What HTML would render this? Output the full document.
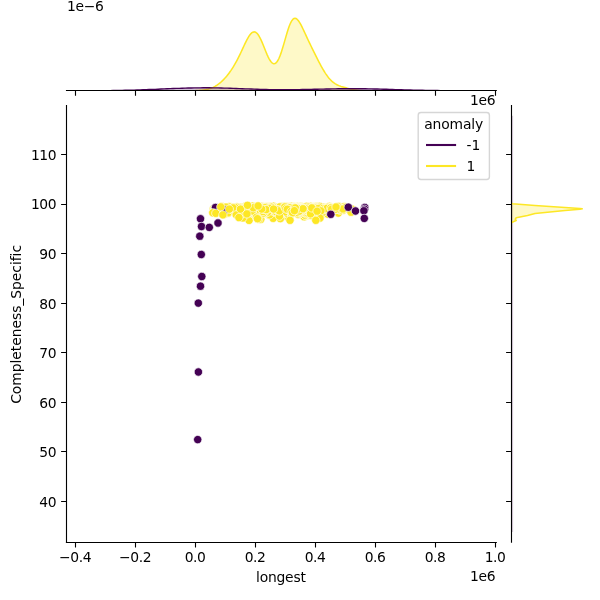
<!DOCTYPE html>
<html lang="en"><head><meta charset="utf-8"><title>jointplot</title>
<style>html,body{margin:0;padding:0;background:#fff}svg{display:block}</style></head>
<body>
<svg width="600" height="600" viewBox="0 0 600 600" font-family="'DejaVu Sans', 'Liberation Sans', sans-serif" font-size="13.89" fill="#000">
<rect width="600" height="600" fill="#fff"/>
<g stroke="#fff" stroke-width="0.67">
<circle cx="270.75" cy="209.07" r="4.17" fill="#fde725"/>
<circle cx="266.71" cy="207.48" r="4.17" fill="#fde725"/>
<circle cx="318.91" cy="208.54" r="4.17" fill="#fde725"/>
<circle cx="287.69" cy="209.38" r="4.17" fill="#fde725"/>
<circle cx="253" cy="212.68" r="4.17" fill="#fde725"/>
<circle cx="287.9" cy="211.49" r="4.17" fill="#fde725"/>
<circle cx="289.61" cy="208.94" r="4.17" fill="#fde725"/>
<circle cx="255.72" cy="209.16" r="4.17" fill="#fde725"/>
<circle cx="330.56" cy="209.17" r="4.17" fill="#fde725"/>
<circle cx="263.01" cy="209.47" r="4.17" fill="#fde725"/>
<circle cx="290.98" cy="208.43" r="4.17" fill="#fde725"/>
<circle cx="297.17" cy="209.69" r="4.17" fill="#fde725"/>
<circle cx="278.14" cy="209.58" r="4.17" fill="#fde725"/>
<circle cx="314.05" cy="206.56" r="4.17" fill="#fde725"/>
<circle cx="309.8" cy="208.11" r="4.17" fill="#fde725"/>
<circle cx="280.27" cy="212.27" r="4.17" fill="#fde725"/>
<circle cx="236.83" cy="211.51" r="4.17" fill="#fde725"/>
<circle cx="303.72" cy="210.51" r="4.17" fill="#fde725"/>
<circle cx="307.27" cy="215.54" r="4.17" fill="#fde725"/>
<circle cx="250.17" cy="208.12" r="4.17" fill="#fde725"/>
<circle cx="266.8" cy="210.22" r="4.17" fill="#fde725"/>
<circle cx="247.05" cy="210.61" r="4.17" fill="#fde725"/>
<circle cx="243.22" cy="208.64" r="4.17" fill="#fde725"/>
<circle cx="257.88" cy="209.26" r="4.17" fill="#fde725"/>
<circle cx="330.06" cy="208.38" r="4.17" fill="#fde725"/>
<circle cx="297.65" cy="210.73" r="4.17" fill="#fde725"/>
<circle cx="297.89" cy="210.84" r="4.17" fill="#fde725"/>
<circle cx="309.98" cy="207.63" r="4.17" fill="#fde725"/>
<circle cx="252.14" cy="206.92" r="4.17" fill="#fde725"/>
<circle cx="320.95" cy="210.8" r="4.17" fill="#fde725"/>
<circle cx="293.96" cy="210.04" r="4.17" fill="#fde725"/>
<circle cx="264.18" cy="209.58" r="4.17" fill="#fde725"/>
<circle cx="307.17" cy="206.99" r="4.17" fill="#fde725"/>
<circle cx="311.43" cy="211.52" r="4.17" fill="#fde725"/>
<circle cx="259.72" cy="209.7" r="4.17" fill="#fde725"/>
<circle cx="287.06" cy="210.1" r="4.17" fill="#fde725"/>
<circle cx="242.24" cy="208.99" r="4.17" fill="#fde725"/>
<circle cx="330.1" cy="211.06" r="4.17" fill="#fde725"/>
<circle cx="295.56" cy="210.12" r="4.17" fill="#fde725"/>
<circle cx="241" cy="209.2" r="4.17" fill="#fde725"/>
<circle cx="337.12" cy="209.65" r="4.17" fill="#fde725"/>
<circle cx="283.25" cy="213.62" r="4.17" fill="#fde725"/>
<circle cx="302.09" cy="209.49" r="4.17" fill="#fde725"/>
<circle cx="316.25" cy="209.56" r="4.17" fill="#fde725"/>
<circle cx="284.5" cy="210.17" r="4.17" fill="#fde725"/>
<circle cx="306.81" cy="211.59" r="4.17" fill="#fde725"/>
<circle cx="294.36" cy="209.22" r="4.17" fill="#fde725"/>
<circle cx="244.5" cy="209.2" r="4.17" fill="#fde725"/>
<circle cx="312.27" cy="209.03" r="4.17" fill="#fde725"/>
<circle cx="311.46" cy="210.49" r="4.17" fill="#fde725"/>
<circle cx="283.53" cy="206.37" r="4.17" fill="#fde725"/>
<circle cx="258.52" cy="209.26" r="4.17" fill="#fde725"/>
<circle cx="306.07" cy="208.1" r="4.17" fill="#fde725"/>
<circle cx="253.5" cy="209.9" r="4.17" fill="#fde725"/>
<circle cx="243.47" cy="208.95" r="4.17" fill="#fde725"/>
<circle cx="241.87" cy="214.56" r="4.17" fill="#fde725"/>
<circle cx="292.83" cy="209.69" r="4.17" fill="#fde725"/>
<circle cx="292.03" cy="207.39" r="4.17" fill="#fde725"/>
<circle cx="301.01" cy="210.17" r="4.17" fill="#fde725"/>
<circle cx="239.67" cy="212.18" r="4.17" fill="#fde725"/>
<circle cx="242.73" cy="208.61" r="4.17" fill="#fde725"/>
<circle cx="307.94" cy="210.78" r="4.17" fill="#fde725"/>
<circle cx="303.77" cy="207.74" r="4.17" fill="#fde725"/>
<circle cx="307.85" cy="208.99" r="4.17" fill="#fde725"/>
<circle cx="242.74" cy="211.06" r="4.17" fill="#fde725"/>
<circle cx="248" cy="209.22" r="4.17" fill="#fde725"/>
<circle cx="329.34" cy="206.46" r="4.17" fill="#fde725"/>
<circle cx="260.07" cy="210.53" r="4.17" fill="#fde725"/>
<circle cx="265.19" cy="208.73" r="4.17" fill="#fde725"/>
<circle cx="289.23" cy="208.66" r="4.17" fill="#fde725"/>
<circle cx="281.33" cy="207.38" r="4.17" fill="#fde725"/>
<circle cx="305.15" cy="208.3" r="4.17" fill="#fde725"/>
<circle cx="313.88" cy="208.9" r="4.17" fill="#fde725"/>
<circle cx="330.9" cy="209.96" r="4.17" fill="#fde725"/>
<circle cx="259.87" cy="211.76" r="4.17" fill="#fde725"/>
<circle cx="298.93" cy="209.54" r="4.17" fill="#fde725"/>
<circle cx="253.22" cy="208.46" r="4.17" fill="#fde725"/>
<circle cx="251.44" cy="211.04" r="4.17" fill="#fde725"/>
<circle cx="255.33" cy="207.22" r="4.17" fill="#fde725"/>
<circle cx="304.87" cy="208.56" r="4.17" fill="#fde725"/>
<circle cx="251.09" cy="207.65" r="4.17" fill="#fde725"/>
<circle cx="258.49" cy="208.67" r="4.17" fill="#fde725"/>
<circle cx="298.51" cy="211.05" r="4.17" fill="#fde725"/>
<circle cx="313.86" cy="211.29" r="4.17" fill="#fde725"/>
<circle cx="289.48" cy="212.57" r="4.17" fill="#fde725"/>
<circle cx="306.02" cy="208.89" r="4.17" fill="#fde725"/>
<circle cx="263.12" cy="210.22" r="4.17" fill="#fde725"/>
<circle cx="317.03" cy="209.28" r="4.17" fill="#fde725"/>
<circle cx="328.44" cy="208.89" r="4.17" fill="#fde725"/>
<circle cx="240.27" cy="211.37" r="4.17" fill="#fde725"/>
<circle cx="300.27" cy="211.1" r="4.17" fill="#fde725"/>
<circle cx="289.49" cy="211.07" r="4.17" fill="#fde725"/>
<circle cx="294.85" cy="207.22" r="4.17" fill="#fde725"/>
<circle cx="289.46" cy="207.53" r="4.17" fill="#fde725"/>
<circle cx="286.47" cy="210.71" r="4.17" fill="#fde725"/>
<circle cx="304.18" cy="208.68" r="4.17" fill="#fde725"/>
<circle cx="290.81" cy="207.4" r="4.17" fill="#fde725"/>
<circle cx="259.06" cy="208.97" r="4.17" fill="#fde725"/>
<circle cx="291.73" cy="209.04" r="4.17" fill="#fde725"/>
<circle cx="249.77" cy="207.42" r="4.17" fill="#fde725"/>
<circle cx="297.97" cy="208.88" r="4.17" fill="#fde725"/>
<circle cx="304.73" cy="212.6" r="4.17" fill="#fde725"/>
<circle cx="315.42" cy="209.13" r="4.17" fill="#fde725"/>
<circle cx="281.69" cy="209.06" r="4.17" fill="#fde725"/>
<circle cx="241.82" cy="208.95" r="4.17" fill="#fde725"/>
<circle cx="275.33" cy="208.6" r="4.17" fill="#fde725"/>
<circle cx="258.1" cy="210.57" r="4.17" fill="#fde725"/>
<circle cx="328.6" cy="210.39" r="4.17" fill="#fde725"/>
<circle cx="287.69" cy="209.3" r="4.17" fill="#fde725"/>
<circle cx="284.88" cy="212.11" r="4.17" fill="#fde725"/>
<circle cx="273.12" cy="212.37" r="4.17" fill="#fde725"/>
<circle cx="278.62" cy="212.55" r="4.17" fill="#fde725"/>
<circle cx="260.84" cy="209.86" r="4.17" fill="#fde725"/>
<circle cx="241.68" cy="209.71" r="4.17" fill="#fde725"/>
<circle cx="282.37" cy="206.27" r="4.17" fill="#fde725"/>
<circle cx="266.1" cy="207.49" r="4.17" fill="#fde725"/>
<circle cx="293.22" cy="211.74" r="4.17" fill="#fde725"/>
<circle cx="276.96" cy="207.61" r="4.17" fill="#fde725"/>
<circle cx="300.38" cy="207.58" r="4.17" fill="#fde725"/>
<circle cx="295.55" cy="209.02" r="4.17" fill="#fde725"/>
<circle cx="310.12" cy="207.49" r="4.17" fill="#fde725"/>
<circle cx="310.24" cy="209.1" r="4.17" fill="#fde725"/>
<circle cx="335.1" cy="209.44" r="4.17" fill="#fde725"/>
<circle cx="316.45" cy="210.87" r="4.17" fill="#fde725"/>
<circle cx="322" cy="209.83" r="4.17" fill="#fde725"/>
<circle cx="224.6" cy="208.33" r="4.17" fill="#fde725"/>
<circle cx="284.71" cy="207.32" r="4.17" fill="#fde725"/>
<circle cx="240.48" cy="210.45" r="4.17" fill="#fde725"/>
<circle cx="240.35" cy="207.6" r="4.17" fill="#fde725"/>
<circle cx="289.96" cy="212.33" r="4.17" fill="#fde725"/>
<circle cx="253.61" cy="209.08" r="4.17" fill="#fde725"/>
<circle cx="275.21" cy="208.61" r="4.17" fill="#fde725"/>
<circle cx="286.46" cy="206.71" r="4.17" fill="#fde725"/>
<circle cx="239.62" cy="212.01" r="4.17" fill="#fde725"/>
<circle cx="274.99" cy="209.07" r="4.17" fill="#fde725"/>
<circle cx="299.01" cy="210.37" r="4.17" fill="#fde725"/>
<circle cx="301.39" cy="210.03" r="4.17" fill="#fde725"/>
<circle cx="258.05" cy="211.58" r="4.17" fill="#fde725"/>
<circle cx="254.76" cy="210.19" r="4.17" fill="#fde725"/>
<circle cx="297.63" cy="209.85" r="4.17" fill="#fde725"/>
<circle cx="279.22" cy="210.84" r="4.17" fill="#fde725"/>
<circle cx="308.22" cy="210.18" r="4.17" fill="#fde725"/>
<circle cx="245.38" cy="210.5" r="4.17" fill="#fde725"/>
<circle cx="249.93" cy="210.39" r="4.17" fill="#fde725"/>
<circle cx="243.97" cy="210.91" r="4.17" fill="#fde725"/>
<circle cx="253.69" cy="211.98" r="4.17" fill="#fde725"/>
<circle cx="257.11" cy="208.13" r="4.17" fill="#fde725"/>
<circle cx="252.13" cy="209.22" r="4.17" fill="#fde725"/>
<circle cx="256.22" cy="207.47" r="4.17" fill="#fde725"/>
<circle cx="258.45" cy="209.11" r="4.17" fill="#fde725"/>
<circle cx="311.16" cy="209.12" r="4.17" fill="#fde725"/>
<circle cx="309.84" cy="208.36" r="4.17" fill="#fde725"/>
<circle cx="243.92" cy="209.12" r="4.17" fill="#fde725"/>
<circle cx="299.35" cy="209.68" r="4.17" fill="#fde725"/>
<circle cx="313.94" cy="208.23" r="4.17" fill="#fde725"/>
<circle cx="303.31" cy="208.73" r="4.17" fill="#fde725"/>
<circle cx="341.2" cy="208.47" r="4.17" fill="#fde725"/>
<circle cx="253.93" cy="208.81" r="4.17" fill="#fde725"/>
<circle cx="300.57" cy="208.6" r="4.17" fill="#fde725"/>
<circle cx="249.4" cy="208.9" r="4.17" fill="#fde725"/>
<circle cx="260.65" cy="212.44" r="4.17" fill="#fde725"/>
<circle cx="297.19" cy="209.04" r="4.17" fill="#fde725"/>
<circle cx="262.89" cy="212.88" r="4.17" fill="#fde725"/>
<circle cx="304.95" cy="207.33" r="4.17" fill="#fde725"/>
<circle cx="286.91" cy="211.39" r="4.17" fill="#fde725"/>
<circle cx="269.71" cy="212.88" r="4.17" fill="#fde725"/>
<circle cx="237.96" cy="209.55" r="4.17" fill="#fde725"/>
<circle cx="262.7" cy="207.61" r="4.17" fill="#fde725"/>
<circle cx="290.36" cy="210.25" r="4.17" fill="#fde725"/>
<circle cx="286.58" cy="208.35" r="4.17" fill="#fde725"/>
<circle cx="240.23" cy="207.34" r="4.17" fill="#fde725"/>
<circle cx="278.71" cy="209.64" r="4.17" fill="#fde725"/>
<circle cx="291.8" cy="207.22" r="4.17" fill="#fde725"/>
<circle cx="250.46" cy="207.45" r="4.17" fill="#fde725"/>
<circle cx="303.18" cy="207.42" r="4.17" fill="#fde725"/>
<circle cx="258.6" cy="208.5" r="4.17" fill="#fde725"/>
<circle cx="288.46" cy="207.75" r="4.17" fill="#fde725"/>
<circle cx="328.31" cy="208.78" r="4.17" fill="#fde725"/>
<circle cx="305.66" cy="211.1" r="4.17" fill="#fde725"/>
<circle cx="281.89" cy="207.08" r="4.17" fill="#fde725"/>
<circle cx="294.8" cy="212.41" r="4.17" fill="#fde725"/>
<circle cx="234.81" cy="209.38" r="4.17" fill="#fde725"/>
<circle cx="273.85" cy="208.74" r="4.17" fill="#fde725"/>
<circle cx="322.46" cy="209.32" r="4.17" fill="#fde725"/>
<circle cx="278.27" cy="208.9" r="4.17" fill="#fde725"/>
<circle cx="340.17" cy="208.76" r="4.17" fill="#fde725"/>
<circle cx="239.92" cy="208.24" r="4.17" fill="#fde725"/>
<circle cx="255.52" cy="209.26" r="4.17" fill="#fde725"/>
<circle cx="327.21" cy="208.66" r="4.17" fill="#fde725"/>
<circle cx="293.5" cy="209.08" r="4.17" fill="#fde725"/>
<circle cx="299.7" cy="212.02" r="4.17" fill="#fde725"/>
<circle cx="300.27" cy="212.29" r="4.17" fill="#fde725"/>
<circle cx="285.24" cy="209.04" r="4.17" fill="#fde725"/>
<circle cx="302.24" cy="209.59" r="4.17" fill="#fde725"/>
<circle cx="286.63" cy="206.55" r="4.17" fill="#fde725"/>
<circle cx="272.16" cy="210.02" r="4.17" fill="#fde725"/>
<circle cx="298.08" cy="207.93" r="4.17" fill="#fde725"/>
<circle cx="253.46" cy="212.34" r="4.17" fill="#fde725"/>
<circle cx="310.11" cy="207.88" r="4.17" fill="#fde725"/>
<circle cx="280.76" cy="208.63" r="4.17" fill="#fde725"/>
<circle cx="313.93" cy="208.22" r="4.17" fill="#fde725"/>
<circle cx="287.06" cy="209.11" r="4.17" fill="#fde725"/>
<circle cx="232.84" cy="210.64" r="4.17" fill="#fde725"/>
<circle cx="312.96" cy="208.76" r="4.17" fill="#fde725"/>
<circle cx="314.47" cy="207.57" r="4.17" fill="#fde725"/>
<circle cx="293.02" cy="209.42" r="4.17" fill="#fde725"/>
<circle cx="302.99" cy="208.8" r="4.17" fill="#fde725"/>
<circle cx="286.5" cy="208.68" r="4.17" fill="#fde725"/>
<circle cx="291.01" cy="208.71" r="4.17" fill="#fde725"/>
<circle cx="302.43" cy="208.93" r="4.17" fill="#fde725"/>
<circle cx="242.2" cy="209.41" r="4.17" fill="#fde725"/>
<circle cx="313.56" cy="208.22" r="4.17" fill="#fde725"/>
<circle cx="348.28" cy="208.94" r="4.17" fill="#fde725"/>
<circle cx="314.25" cy="209.4" r="4.17" fill="#fde725"/>
<circle cx="259.88" cy="208.83" r="4.17" fill="#fde725"/>
<circle cx="248.73" cy="207.39" r="4.17" fill="#fde725"/>
<circle cx="216.59" cy="209.67" r="4.17" fill="#fde725"/>
<circle cx="300.18" cy="208.57" r="4.17" fill="#fde725"/>
<circle cx="265.19" cy="208.66" r="4.17" fill="#fde725"/>
<circle cx="290.51" cy="209.13" r="4.17" fill="#fde725"/>
<circle cx="308.04" cy="210.39" r="4.17" fill="#fde725"/>
<circle cx="252.36" cy="209.94" r="4.17" fill="#fde725"/>
<circle cx="299.52" cy="206.79" r="4.17" fill="#fde725"/>
<circle cx="280.01" cy="210.97" r="4.17" fill="#fde725"/>
<circle cx="297.67" cy="212.28" r="4.17" fill="#fde725"/>
<circle cx="253.93" cy="207.32" r="4.17" fill="#fde725"/>
<circle cx="294.95" cy="208.44" r="4.17" fill="#fde725"/>
<circle cx="282.04" cy="209.93" r="4.17" fill="#fde725"/>
<circle cx="284.1" cy="207.35" r="4.17" fill="#fde725"/>
<circle cx="281.79" cy="211.73" r="4.17" fill="#fde725"/>
<circle cx="266.88" cy="209.62" r="4.17" fill="#fde725"/>
<circle cx="227.34" cy="208.76" r="4.17" fill="#fde725"/>
<circle cx="245.66" cy="206.55" r="4.17" fill="#fde725"/>
<circle cx="317.41" cy="209.13" r="4.17" fill="#fde725"/>
<circle cx="262.95" cy="207.57" r="4.17" fill="#fde725"/>
<circle cx="272.08" cy="208.62" r="4.17" fill="#fde725"/>
<circle cx="251.38" cy="211.23" r="4.17" fill="#fde725"/>
<circle cx="233.59" cy="209.46" r="4.17" fill="#fde725"/>
<circle cx="263.65" cy="206.88" r="4.17" fill="#fde725"/>
<circle cx="279.53" cy="209.97" r="4.17" fill="#fde725"/>
<circle cx="299.18" cy="210.88" r="4.17" fill="#fde725"/>
<circle cx="244.25" cy="208.75" r="4.17" fill="#fde725"/>
<circle cx="290.14" cy="210.53" r="4.17" fill="#fde725"/>
<circle cx="328.3" cy="207.97" r="4.17" fill="#fde725"/>
<circle cx="313.49" cy="211.08" r="4.17" fill="#fde725"/>
<circle cx="287.48" cy="209.41" r="4.17" fill="#fde725"/>
<circle cx="281.46" cy="207.16" r="4.17" fill="#fde725"/>
<circle cx="287.83" cy="207.54" r="4.17" fill="#fde725"/>
<circle cx="283.54" cy="208.83" r="4.17" fill="#fde725"/>
<circle cx="285.03" cy="212.58" r="4.17" fill="#fde725"/>
<circle cx="296.21" cy="210.42" r="4.17" fill="#fde725"/>
<circle cx="293.25" cy="210.15" r="4.17" fill="#fde725"/>
<circle cx="300.12" cy="210.49" r="4.17" fill="#fde725"/>
<circle cx="266.54" cy="210.62" r="4.17" fill="#fde725"/>
<circle cx="315.87" cy="208.71" r="4.17" fill="#fde725"/>
<circle cx="336.91" cy="210.57" r="4.17" fill="#fde725"/>
<circle cx="252.56" cy="211.92" r="4.17" fill="#fde725"/>
<circle cx="255.88" cy="209.67" r="4.17" fill="#fde725"/>
<circle cx="249.8" cy="209.33" r="4.17" fill="#fde725"/>
<circle cx="298.19" cy="209.63" r="4.17" fill="#fde725"/>
<circle cx="253.35" cy="207.89" r="4.17" fill="#fde725"/>
<circle cx="268.26" cy="210.91" r="4.17" fill="#fde725"/>
<circle cx="255.17" cy="208.05" r="4.17" fill="#fde725"/>
<circle cx="261.62" cy="209.41" r="4.17" fill="#fde725"/>
<circle cx="298.49" cy="206.2" r="4.17" fill="#fde725"/>
<circle cx="289.06" cy="208.95" r="4.17" fill="#fde725"/>
<circle cx="316.54" cy="207.89" r="4.17" fill="#fde725"/>
<circle cx="273.19" cy="207.22" r="4.17" fill="#fde725"/>
<circle cx="267.1" cy="210.9" r="4.17" fill="#fde725"/>
<circle cx="285.31" cy="209.2" r="4.17" fill="#fde725"/>
<circle cx="317.86" cy="209.11" r="4.17" fill="#fde725"/>
<circle cx="295.46" cy="207.91" r="4.17" fill="#fde725"/>
<circle cx="296.37" cy="210.08" r="4.17" fill="#fde725"/>
<circle cx="287.71" cy="210.32" r="4.17" fill="#fde725"/>
<circle cx="290" cy="209.36" r="4.17" fill="#fde725"/>
<circle cx="282.78" cy="207.75" r="4.17" fill="#fde725"/>
<circle cx="245.77" cy="210.81" r="4.17" fill="#fde725"/>
<circle cx="290.07" cy="208.82" r="4.17" fill="#fde725"/>
<circle cx="324.58" cy="209.19" r="4.17" fill="#fde725"/>
<circle cx="218.43" cy="208.92" r="4.17" fill="#fde725"/>
<circle cx="250.64" cy="211.03" r="4.17" fill="#fde725"/>
<circle cx="291.79" cy="210.16" r="4.17" fill="#fde725"/>
<circle cx="241.57" cy="209.32" r="4.17" fill="#fde725"/>
<circle cx="246.88" cy="211.16" r="4.17" fill="#fde725"/>
<circle cx="258.29" cy="210.51" r="4.17" fill="#fde725"/>
<circle cx="309.49" cy="213.09" r="4.17" fill="#fde725"/>
<circle cx="266.36" cy="206.78" r="4.17" fill="#fde725"/>
<circle cx="306.78" cy="207.88" r="4.17" fill="#fde725"/>
<circle cx="324.08" cy="208.72" r="4.17" fill="#fde725"/>
<circle cx="298.37" cy="213.12" r="4.17" fill="#fde725"/>
<circle cx="324.78" cy="211.16" r="4.17" fill="#fde725"/>
<circle cx="304.75" cy="209.37" r="4.17" fill="#fde725"/>
<circle cx="252.73" cy="210.88" r="4.17" fill="#fde725"/>
<circle cx="259.83" cy="212.99" r="4.17" fill="#fde725"/>
<circle cx="302.87" cy="208.49" r="4.17" fill="#fde725"/>
<circle cx="282.67" cy="209.46" r="4.17" fill="#fde725"/>
<circle cx="301.35" cy="206.68" r="4.17" fill="#fde725"/>
<circle cx="313.1" cy="211.66" r="4.17" fill="#fde725"/>
<circle cx="281.86" cy="208.29" r="4.17" fill="#fde725"/>
<circle cx="341.66" cy="207.22" r="4.17" fill="#fde725"/>
<circle cx="282.01" cy="208.5" r="4.17" fill="#fde725"/>
<circle cx="246.81" cy="210.22" r="4.17" fill="#fde725"/>
<circle cx="244.41" cy="208.81" r="4.17" fill="#fde725"/>
<circle cx="332.81" cy="208.77" r="4.17" fill="#fde725"/>
<circle cx="244.28" cy="210.29" r="4.17" fill="#fde725"/>
<circle cx="283.68" cy="207.53" r="4.17" fill="#fde725"/>
<circle cx="320.91" cy="208.76" r="4.17" fill="#fde725"/>
<circle cx="246.12" cy="209.13" r="4.17" fill="#fde725"/>
<circle cx="263.47" cy="210.88" r="4.17" fill="#fde725"/>
<circle cx="314.99" cy="210.81" r="4.17" fill="#fde725"/>
<circle cx="249.86" cy="210.53" r="4.17" fill="#fde725"/>
<circle cx="302.49" cy="211.09" r="4.17" fill="#fde725"/>
<circle cx="300.29" cy="206.2" r="4.17" fill="#fde725"/>
<circle cx="331.69" cy="209.58" r="4.17" fill="#fde725"/>
<circle cx="254.66" cy="207.92" r="4.17" fill="#fde725"/>
<circle cx="220.62" cy="209.57" r="4.17" fill="#fde725"/>
<circle cx="247.44" cy="212.41" r="4.17" fill="#fde725"/>
<circle cx="221.07" cy="209.4" r="4.17" fill="#fde725"/>
<circle cx="252.1" cy="209.5" r="4.17" fill="#fde725"/>
<circle cx="311.77" cy="208.36" r="4.17" fill="#fde725"/>
<circle cx="256.55" cy="209.01" r="4.17" fill="#fde725"/>
<circle cx="299.97" cy="212.8" r="4.17" fill="#fde725"/>
<circle cx="298.67" cy="209.25" r="4.17" fill="#fde725"/>
<circle cx="291.46" cy="209.85" r="4.17" fill="#fde725"/>
<circle cx="319.13" cy="209.23" r="4.17" fill="#fde725"/>
<circle cx="266.22" cy="209.71" r="4.17" fill="#fde725"/>
<circle cx="290.82" cy="209.65" r="4.17" fill="#fde725"/>
<circle cx="306.93" cy="209.97" r="4.17" fill="#fde725"/>
<circle cx="231.7" cy="208.74" r="4.17" fill="#fde725"/>
<circle cx="308.33" cy="208.97" r="4.17" fill="#fde725"/>
<circle cx="289.12" cy="210.01" r="4.17" fill="#fde725"/>
<circle cx="273.48" cy="206.23" r="4.17" fill="#fde725"/>
<circle cx="223.15" cy="208.87" r="4.17" fill="#fde725"/>
<circle cx="292.5" cy="211.12" r="4.17" fill="#fde725"/>
<circle cx="249.4" cy="208.84" r="4.17" fill="#fde725"/>
<circle cx="241.12" cy="210.17" r="4.17" fill="#fde725"/>
<circle cx="255.83" cy="207.89" r="4.17" fill="#fde725"/>
<circle cx="254.05" cy="210.54" r="4.17" fill="#fde725"/>
<circle cx="323.36" cy="208.19" r="4.17" fill="#fde725"/>
<circle cx="285.46" cy="216.07" r="4.17" fill="#fde725"/>
<circle cx="285.53" cy="207.8" r="4.17" fill="#fde725"/>
<circle cx="307.39" cy="207.67" r="4.17" fill="#fde725"/>
<circle cx="242.84" cy="211.37" r="4.17" fill="#fde725"/>
<circle cx="264.33" cy="209.41" r="4.17" fill="#fde725"/>
<circle cx="234.07" cy="208.3" r="4.17" fill="#fde725"/>
<circle cx="251.02" cy="207.75" r="4.17" fill="#fde725"/>
<circle cx="294.63" cy="209.73" r="4.17" fill="#fde725"/>
<circle cx="309.59" cy="213.14" r="4.17" fill="#fde725"/>
<circle cx="263.3" cy="208.87" r="4.17" fill="#fde725"/>
<circle cx="245.75" cy="208.92" r="4.17" fill="#fde725"/>
<circle cx="301.44" cy="208.77" r="4.17" fill="#fde725"/>
<circle cx="338.64" cy="209.64" r="4.17" fill="#fde725"/>
<circle cx="280.35" cy="218.63" r="4.17" fill="#fde725"/>
<circle cx="262.31" cy="209.32" r="4.17" fill="#fde725"/>
<circle cx="321.31" cy="207.4" r="4.17" fill="#fde725"/>
<circle cx="303.83" cy="210.74" r="4.17" fill="#fde725"/>
<circle cx="310.74" cy="210.46" r="4.17" fill="#fde725"/>
<circle cx="302.41" cy="208.08" r="4.17" fill="#fde725"/>
<circle cx="309.64" cy="212.48" r="4.17" fill="#fde725"/>
<circle cx="270.64" cy="210.3" r="4.17" fill="#fde725"/>
<circle cx="277.23" cy="211.99" r="4.17" fill="#fde725"/>
<circle cx="344.37" cy="206.64" r="4.17" fill="#fde725"/>
<circle cx="277.35" cy="215.38" r="4.17" fill="#fde725"/>
<circle cx="302.11" cy="207.89" r="4.17" fill="#fde725"/>
<circle cx="275.98" cy="207.34" r="4.17" fill="#fde725"/>
<circle cx="302.33" cy="207.93" r="4.17" fill="#fde725"/>
<circle cx="259.42" cy="207.35" r="4.17" fill="#fde725"/>
<circle cx="302.92" cy="208.58" r="4.17" fill="#fde725"/>
<circle cx="269.55" cy="215.3" r="4.17" fill="#fde725"/>
<circle cx="302.69" cy="208.31" r="4.17" fill="#fde725"/>
<circle cx="340.49" cy="208.85" r="4.17" fill="#fde725"/>
<circle cx="244.58" cy="210.32" r="4.17" fill="#fde725"/>
<circle cx="323.15" cy="209.27" r="4.17" fill="#fde725"/>
<circle cx="264.83" cy="208.53" r="4.17" fill="#fde725"/>
<circle cx="262.63" cy="212.2" r="4.17" fill="#fde725"/>
<circle cx="285.71" cy="207.43" r="4.17" fill="#fde725"/>
<circle cx="246.7" cy="210.57" r="4.17" fill="#fde725"/>
<circle cx="232.7" cy="208.96" r="4.17" fill="#fde725"/>
<circle cx="258.67" cy="206.65" r="4.17" fill="#fde725"/>
<circle cx="290.78" cy="209.36" r="4.17" fill="#fde725"/>
<circle cx="258.13" cy="211.07" r="4.17" fill="#fde725"/>
<circle cx="270.97" cy="207.78" r="4.17" fill="#fde725"/>
<circle cx="339.03" cy="208.74" r="4.17" fill="#fde725"/>
<circle cx="312.83" cy="210.88" r="4.17" fill="#fde725"/>
<circle cx="304.43" cy="209.15" r="4.17" fill="#fde725"/>
<circle cx="260.56" cy="206.55" r="4.17" fill="#fde725"/>
<circle cx="320.69" cy="209.61" r="4.17" fill="#fde725"/>
<circle cx="302.07" cy="207.34" r="4.17" fill="#fde725"/>
<circle cx="305.26" cy="211.16" r="4.17" fill="#fde725"/>
<circle cx="292.83" cy="209.29" r="4.17" fill="#fde725"/>
<circle cx="295.08" cy="208.91" r="4.17" fill="#fde725"/>
<circle cx="340.85" cy="208.99" r="4.17" fill="#fde725"/>
<circle cx="298.54" cy="206.86" r="4.17" fill="#fde725"/>
<circle cx="264.96" cy="207.53" r="4.17" fill="#fde725"/>
<circle cx="262.83" cy="210.62" r="4.17" fill="#fde725"/>
<circle cx="299.03" cy="209.46" r="4.17" fill="#fde725"/>
<circle cx="300.14" cy="213.75" r="4.17" fill="#fde725"/>
<circle cx="306.42" cy="209.07" r="4.17" fill="#fde725"/>
<circle cx="324.98" cy="210.02" r="4.17" fill="#fde725"/>
<circle cx="262.64" cy="208.78" r="4.17" fill="#fde725"/>
<circle cx="299.98" cy="206.8" r="4.17" fill="#fde725"/>
<circle cx="249.59" cy="208.19" r="4.17" fill="#fde725"/>
<circle cx="288.92" cy="207.01" r="4.17" fill="#fde725"/>
<circle cx="230.71" cy="208.76" r="4.17" fill="#fde725"/>
<circle cx="296.76" cy="209.25" r="4.17" fill="#fde725"/>
<circle cx="271.64" cy="209.95" r="4.17" fill="#fde725"/>
<circle cx="248.53" cy="209.83" r="4.17" fill="#fde725"/>
<circle cx="325.78" cy="209.28" r="4.17" fill="#fde725"/>
<circle cx="300.24" cy="212.18" r="4.17" fill="#fde725"/>
<circle cx="241.81" cy="207.72" r="4.17" fill="#fde725"/>
<circle cx="338.9" cy="206.39" r="4.17" fill="#fde725"/>
<circle cx="264.32" cy="208.84" r="4.17" fill="#fde725"/>
<circle cx="245.08" cy="207.97" r="4.17" fill="#fde725"/>
<circle cx="220.55" cy="208.75" r="4.17" fill="#fde725"/>
<circle cx="317.05" cy="206.52" r="4.17" fill="#fde725"/>
<circle cx="311.11" cy="209.92" r="4.17" fill="#fde725"/>
<circle cx="273.17" cy="218.33" r="4.17" fill="#fde725"/>
<circle cx="287.42" cy="209.22" r="4.17" fill="#fde725"/>
<circle cx="284.97" cy="211.45" r="4.17" fill="#fde725"/>
<circle cx="312.79" cy="207.44" r="4.17" fill="#fde725"/>
<circle cx="256.07" cy="208.43" r="4.17" fill="#fde725"/>
<circle cx="275" cy="208.47" r="4.17" fill="#fde725"/>
<circle cx="280.87" cy="211.49" r="4.17" fill="#fde725"/>
<circle cx="270.22" cy="207.37" r="4.17" fill="#fde725"/>
<circle cx="248.85" cy="213.64" r="4.17" fill="#fde725"/>
<circle cx="264.38" cy="210.13" r="4.17" fill="#fde725"/>
<circle cx="331.89" cy="211.48" r="4.17" fill="#fde725"/>
<circle cx="304.56" cy="213.03" r="4.17" fill="#fde725"/>
<circle cx="280.06" cy="213.45" r="4.17" fill="#fde725"/>
<circle cx="287.22" cy="209.29" r="4.17" fill="#fde725"/>
<circle cx="242.83" cy="207.23" r="4.17" fill="#fde725"/>
<circle cx="256.59" cy="207.33" r="4.17" fill="#fde725"/>
<circle cx="272.89" cy="208.96" r="4.17" fill="#fde725"/>
<circle cx="320.54" cy="208.33" r="4.17" fill="#fde725"/>
<circle cx="254.62" cy="209.23" r="4.17" fill="#fde725"/>
<circle cx="290.05" cy="208.79" r="4.17" fill="#fde725"/>
<circle cx="237.25" cy="211.2" r="4.17" fill="#fde725"/>
<circle cx="306.22" cy="208.74" r="4.17" fill="#fde725"/>
<circle cx="286.73" cy="209.06" r="4.17" fill="#fde725"/>
<circle cx="286.87" cy="208.61" r="4.17" fill="#fde725"/>
<circle cx="308.31" cy="209.85" r="4.17" fill="#fde725"/>
<circle cx="286.22" cy="208.89" r="4.17" fill="#fde725"/>
<circle cx="281.74" cy="208.43" r="4.17" fill="#fde725"/>
<circle cx="315.36" cy="210.2" r="4.17" fill="#fde725"/>
<circle cx="306.03" cy="209" r="4.17" fill="#fde725"/>
<circle cx="221.79" cy="206.38" r="4.17" fill="#fde725"/>
<circle cx="259.32" cy="208.61" r="4.17" fill="#fde725"/>
<circle cx="250.24" cy="208.09" r="4.17" fill="#fde725"/>
<circle cx="290.83" cy="206.76" r="4.17" fill="#fde725"/>
<circle cx="245.98" cy="209.08" r="4.17" fill="#fde725"/>
<circle cx="286.55" cy="212.75" r="4.17" fill="#fde725"/>
<circle cx="310.47" cy="210.91" r="4.17" fill="#fde725"/>
<circle cx="288.5" cy="208.53" r="4.17" fill="#fde725"/>
<circle cx="274.81" cy="212.06" r="4.17" fill="#fde725"/>
<circle cx="259.98" cy="215.94" r="4.17" fill="#fde725"/>
<circle cx="331.3" cy="211.38" r="4.17" fill="#fde725"/>
<circle cx="283.39" cy="207.3" r="4.17" fill="#fde725"/>
<circle cx="257.69" cy="209.33" r="4.17" fill="#fde725"/>
<circle cx="290.46" cy="206.72" r="4.17" fill="#fde725"/>
<circle cx="268.39" cy="212.8" r="4.17" fill="#fde725"/>
<circle cx="253.75" cy="209.23" r="4.17" fill="#fde725"/>
<circle cx="312.65" cy="209.22" r="4.17" fill="#fde725"/>
<circle cx="257.07" cy="209.06" r="4.17" fill="#fde725"/>
<circle cx="254.98" cy="209.03" r="4.17" fill="#fde725"/>
<circle cx="287.54" cy="208.54" r="4.17" fill="#fde725"/>
<circle cx="315.78" cy="211.66" r="4.17" fill="#fde725"/>
<circle cx="287.49" cy="208.86" r="4.17" fill="#fde725"/>
<circle cx="256.3" cy="207.19" r="4.17" fill="#fde725"/>
<circle cx="258.99" cy="208.06" r="4.17" fill="#fde725"/>
<circle cx="284.31" cy="211.96" r="4.17" fill="#fde725"/>
<circle cx="269.22" cy="208.02" r="4.17" fill="#fde725"/>
<circle cx="252.82" cy="213.75" r="4.17" fill="#fde725"/>
<circle cx="243.87" cy="209.21" r="4.17" fill="#fde725"/>
<circle cx="238.83" cy="208.78" r="4.17" fill="#fde725"/>
<circle cx="320.95" cy="209.22" r="4.17" fill="#fde725"/>
<circle cx="262.43" cy="209.88" r="4.17" fill="#fde725"/>
<circle cx="311" cy="213.43" r="4.17" fill="#fde725"/>
<circle cx="249.74" cy="206.43" r="4.17" fill="#fde725"/>
<circle cx="312.6" cy="209.66" r="4.17" fill="#fde725"/>
<circle cx="265.83" cy="209.52" r="4.17" fill="#fde725"/>
<circle cx="295.76" cy="212.5" r="4.17" fill="#fde725"/>
<circle cx="248.6" cy="209.97" r="4.17" fill="#fde725"/>
<circle cx="274.99" cy="211.68" r="4.17" fill="#fde725"/>
<circle cx="247.08" cy="211.34" r="4.17" fill="#fde725"/>
<circle cx="291.25" cy="209.23" r="4.17" fill="#fde725"/>
<circle cx="293.75" cy="208.03" r="4.17" fill="#fde725"/>
<circle cx="317.12" cy="209.64" r="4.17" fill="#fde725"/>
<circle cx="300.15" cy="207.14" r="4.17" fill="#fde725"/>
<circle cx="342.26" cy="208.8" r="4.17" fill="#fde725"/>
<circle cx="342.86" cy="210.18" r="4.17" fill="#fde725"/>
<circle cx="295.66" cy="208.83" r="4.17" fill="#fde725"/>
<circle cx="281.96" cy="209.88" r="4.17" fill="#fde725"/>
<circle cx="255.97" cy="210.59" r="4.17" fill="#fde725"/>
<circle cx="264.84" cy="210.11" r="4.17" fill="#fde725"/>
<circle cx="298.68" cy="214.58" r="4.17" fill="#fde725"/>
<circle cx="269.91" cy="211.64" r="4.17" fill="#fde725"/>
<circle cx="298.92" cy="213.69" r="4.17" fill="#fde725"/>
<circle cx="276.1" cy="207.62" r="4.17" fill="#fde725"/>
<circle cx="296.17" cy="208.6" r="4.17" fill="#fde725"/>
<circle cx="296.98" cy="209.03" r="4.17" fill="#fde725"/>
<circle cx="263.47" cy="207.9" r="4.17" fill="#fde725"/>
<circle cx="301.7" cy="208.54" r="4.17" fill="#fde725"/>
<circle cx="281.85" cy="208.8" r="4.17" fill="#fde725"/>
<circle cx="305.45" cy="209.3" r="4.17" fill="#fde725"/>
<circle cx="308.95" cy="208.54" r="4.17" fill="#fde725"/>
<circle cx="300.14" cy="208.08" r="4.17" fill="#fde725"/>
<circle cx="264.06" cy="207.99" r="4.17" fill="#fde725"/>
<circle cx="249.42" cy="207.31" r="4.17" fill="#fde725"/>
<circle cx="268.29" cy="209.27" r="4.17" fill="#fde725"/>
<circle cx="241.49" cy="207.75" r="4.17" fill="#fde725"/>
<circle cx="324.62" cy="213.47" r="4.17" fill="#fde725"/>
<circle cx="213.39" cy="208.95" r="4.17" fill="#fde725"/>
<circle cx="246.54" cy="207.63" r="4.17" fill="#fde725"/>
<circle cx="234.85" cy="212.63" r="4.17" fill="#fde725"/>
<circle cx="302.13" cy="207.83" r="4.17" fill="#fde725"/>
<circle cx="234" cy="207.5" r="4.17" fill="#fde725"/>
<circle cx="306.82" cy="211.43" r="4.17" fill="#fde725"/>
<circle cx="269.57" cy="214.82" r="4.17" fill="#fde725"/>
<circle cx="279.73" cy="210.57" r="4.17" fill="#fde725"/>
<circle cx="333.49" cy="209.14" r="4.17" fill="#fde725"/>
<circle cx="263.41" cy="212.33" r="4.17" fill="#fde725"/>
<circle cx="308.26" cy="209.07" r="4.17" fill="#fde725"/>
<circle cx="234.01" cy="208.95" r="4.17" fill="#fde725"/>
<circle cx="249.32" cy="206.65" r="4.17" fill="#fde725"/>
<circle cx="290.04" cy="214.31" r="4.17" fill="#fde725"/>
<circle cx="238.63" cy="209.62" r="4.17" fill="#fde725"/>
<circle cx="339.85" cy="209.9" r="4.17" fill="#fde725"/>
<circle cx="291.4" cy="208.14" r="4.17" fill="#fde725"/>
<circle cx="235.8" cy="209.64" r="4.17" fill="#fde725"/>
<circle cx="299.59" cy="210.07" r="4.17" fill="#fde725"/>
<circle cx="258.88" cy="209.28" r="4.17" fill="#fde725"/>
<circle cx="246.08" cy="209.33" r="4.17" fill="#fde725"/>
<circle cx="322.88" cy="207.26" r="4.17" fill="#fde725"/>
<circle cx="245.62" cy="209.02" r="4.17" fill="#fde725"/>
<circle cx="250.99" cy="208.58" r="4.17" fill="#fde725"/>
<circle cx="299.43" cy="210.3" r="4.17" fill="#fde725"/>
<circle cx="240.99" cy="210.28" r="4.17" fill="#fde725"/>
<circle cx="291.12" cy="213.02" r="4.17" fill="#fde725"/>
<circle cx="239.05" cy="211.1" r="4.17" fill="#fde725"/>
<circle cx="244.99" cy="210.07" r="4.17" fill="#fde725"/>
<circle cx="245.05" cy="208.13" r="4.17" fill="#fde725"/>
<circle cx="307.39" cy="209.32" r="4.17" fill="#fde725"/>
<circle cx="289.95" cy="211.87" r="4.17" fill="#fde725"/>
<circle cx="301.66" cy="208.49" r="4.17" fill="#fde725"/>
<circle cx="335.05" cy="208.91" r="4.17" fill="#fde725"/>
<circle cx="270.09" cy="209.9" r="4.17" fill="#fde725"/>
<circle cx="296.13" cy="208.95" r="4.17" fill="#fde725"/>
<circle cx="257.72" cy="208.36" r="4.17" fill="#fde725"/>
<circle cx="255.59" cy="209.93" r="4.17" fill="#fde725"/>
<circle cx="317.87" cy="210.05" r="4.17" fill="#fde725"/>
<circle cx="261.11" cy="214.44" r="4.17" fill="#fde725"/>
<circle cx="326.61" cy="208.97" r="4.17" fill="#fde725"/>
<circle cx="304.7" cy="211.28" r="4.17" fill="#fde725"/>
<circle cx="303.22" cy="211.52" r="4.17" fill="#fde725"/>
<circle cx="287.36" cy="207.07" r="4.17" fill="#fde725"/>
<circle cx="340.96" cy="209.39" r="4.17" fill="#fde725"/>
<circle cx="288.3" cy="209.13" r="4.17" fill="#fde725"/>
<circle cx="301.34" cy="207.53" r="4.17" fill="#fde725"/>
<circle cx="315.13" cy="208.06" r="4.17" fill="#fde725"/>
<circle cx="290.49" cy="206.62" r="4.17" fill="#fde725"/>
<circle cx="287.85" cy="211.12" r="4.17" fill="#fde725"/>
<circle cx="307.83" cy="209.49" r="4.17" fill="#fde725"/>
<circle cx="292.73" cy="209.98" r="4.17" fill="#fde725"/>
<circle cx="229.66" cy="206.61" r="4.17" fill="#fde725"/>
<circle cx="309.96" cy="209.81" r="4.17" fill="#fde725"/>
<circle cx="301.04" cy="207.07" r="4.17" fill="#fde725"/>
<circle cx="278.7" cy="209.91" r="4.17" fill="#fde725"/>
<circle cx="264.54" cy="209.4" r="4.17" fill="#fde725"/>
<circle cx="249.15" cy="207.12" r="4.17" fill="#fde725"/>
<circle cx="302.35" cy="209.06" r="4.17" fill="#fde725"/>
<circle cx="309.26" cy="208.48" r="4.17" fill="#fde725"/>
<circle cx="316.49" cy="208.91" r="4.17" fill="#fde725"/>
<circle cx="307.6" cy="209.52" r="4.17" fill="#fde725"/>
<circle cx="296.72" cy="210.06" r="4.17" fill="#fde725"/>
<circle cx="235.95" cy="210.31" r="4.17" fill="#fde725"/>
<circle cx="259.67" cy="207.12" r="4.17" fill="#fde725"/>
<circle cx="298.48" cy="208.14" r="4.17" fill="#fde725"/>
<circle cx="286.69" cy="210.2" r="4.17" fill="#fde725"/>
<circle cx="274.05" cy="208.21" r="4.17" fill="#fde725"/>
<circle cx="320.48" cy="207.93" r="4.17" fill="#fde725"/>
<circle cx="251.66" cy="208.17" r="4.17" fill="#fde725"/>
<circle cx="239.16" cy="209.39" r="4.17" fill="#fde725"/>
<circle cx="300.59" cy="209.63" r="4.17" fill="#fde725"/>
<circle cx="294.79" cy="210.44" r="4.17" fill="#fde725"/>
<circle cx="305.49" cy="208.14" r="4.17" fill="#fde725"/>
<circle cx="244.31" cy="209.96" r="4.17" fill="#fde725"/>
<circle cx="291.62" cy="209.67" r="4.17" fill="#fde725"/>
<circle cx="254.88" cy="208.93" r="4.17" fill="#fde725"/>
<circle cx="248.66" cy="207.42" r="4.17" fill="#fde725"/>
<circle cx="244.12" cy="209.75" r="4.17" fill="#fde725"/>
<circle cx="266.16" cy="209.62" r="4.17" fill="#fde725"/>
<circle cx="282.96" cy="209.76" r="4.17" fill="#fde725"/>
<circle cx="246.38" cy="207.62" r="4.17" fill="#fde725"/>
<circle cx="270.53" cy="207.22" r="4.17" fill="#fde725"/>
<circle cx="274.09" cy="210.27" r="4.17" fill="#fde725"/>
<circle cx="270.69" cy="209.73" r="4.17" fill="#fde725"/>
<circle cx="334.65" cy="207.98" r="4.17" fill="#fde725"/>
<circle cx="304.98" cy="208.75" r="4.17" fill="#fde725"/>
<circle cx="242.49" cy="212.93" r="4.17" fill="#fde725"/>
<circle cx="239.67" cy="209.1" r="4.17" fill="#fde725"/>
<circle cx="295.74" cy="208.34" r="4.17" fill="#fde725"/>
<circle cx="301.58" cy="209.06" r="4.17" fill="#fde725"/>
<circle cx="313.8" cy="211.81" r="4.17" fill="#fde725"/>
<circle cx="300.46" cy="206.86" r="4.17" fill="#fde725"/>
<circle cx="335.52" cy="208.88" r="4.17" fill="#fde725"/>
<circle cx="293.34" cy="210.65" r="4.17" fill="#fde725"/>
<circle cx="314.08" cy="207.85" r="4.17" fill="#fde725"/>
<circle cx="229.01" cy="210.21" r="4.17" fill="#fde725"/>
<circle cx="300.6" cy="207.95" r="4.17" fill="#fde725"/>
<circle cx="235.95" cy="208.74" r="4.17" fill="#fde725"/>
<circle cx="298.44" cy="210.91" r="4.17" fill="#fde725"/>
<circle cx="235.35" cy="207.91" r="4.17" fill="#fde725"/>
<circle cx="293.28" cy="208.97" r="4.17" fill="#fde725"/>
<circle cx="252.21" cy="209.41" r="4.17" fill="#fde725"/>
<circle cx="297.3" cy="207.86" r="4.17" fill="#fde725"/>
<circle cx="240.72" cy="210.69" r="4.17" fill="#fde725"/>
<circle cx="240.02" cy="216.77" r="4.17" fill="#fde725"/>
<circle cx="295.48" cy="209.78" r="4.17" fill="#fde725"/>
<circle cx="287.25" cy="211.32" r="4.17" fill="#fde725"/>
<circle cx="283.58" cy="209.56" r="4.17" fill="#fde725"/>
<circle cx="228.87" cy="209.79" r="4.17" fill="#fde725"/>
<circle cx="290.71" cy="212.61" r="4.17" fill="#fde725"/>
<circle cx="259.91" cy="210.21" r="4.17" fill="#fde725"/>
<circle cx="257.86" cy="209.68" r="4.17" fill="#fde725"/>
<circle cx="297.5" cy="208.7" r="4.17" fill="#fde725"/>
<circle cx="291.12" cy="208.68" r="4.17" fill="#fde725"/>
<circle cx="246.31" cy="206.72" r="4.17" fill="#fde725"/>
<circle cx="311.65" cy="207.06" r="4.17" fill="#fde725"/>
<circle cx="302.15" cy="209.03" r="4.17" fill="#fde725"/>
<circle cx="268.08" cy="210.77" r="4.17" fill="#fde725"/>
<circle cx="247.33" cy="208.54" r="4.17" fill="#fde725"/>
<circle cx="248.82" cy="208.11" r="4.17" fill="#fde725"/>
<circle cx="288.3" cy="209.87" r="4.17" fill="#fde725"/>
<circle cx="299.87" cy="209.77" r="4.17" fill="#fde725"/>
<circle cx="285.04" cy="210.61" r="4.17" fill="#fde725"/>
<circle cx="250.02" cy="208.05" r="4.17" fill="#fde725"/>
<circle cx="264.31" cy="208.99" r="4.17" fill="#fde725"/>
<circle cx="245.09" cy="209.55" r="4.17" fill="#fde725"/>
<circle cx="304.13" cy="216.71" r="4.17" fill="#fde725"/>
<circle cx="291.82" cy="207.34" r="4.17" fill="#fde725"/>
<circle cx="257.66" cy="210.3" r="4.17" fill="#fde725"/>
<circle cx="306.83" cy="214.77" r="4.17" fill="#fde725"/>
<circle cx="238.42" cy="208.55" r="4.17" fill="#fde725"/>
<circle cx="254.6" cy="211.43" r="4.17" fill="#fde725"/>
<circle cx="287.61" cy="213.52" r="4.17" fill="#fde725"/>
<circle cx="285.17" cy="213.23" r="4.17" fill="#fde725"/>
<circle cx="269.26" cy="208.85" r="4.17" fill="#fde725"/>
<circle cx="300.18" cy="208.29" r="4.17" fill="#fde725"/>
<circle cx="263.28" cy="207.36" r="4.17" fill="#fde725"/>
<circle cx="293.46" cy="210.05" r="4.17" fill="#fde725"/>
<circle cx="271.75" cy="210.34" r="4.17" fill="#fde725"/>
<circle cx="303.19" cy="210.59" r="4.17" fill="#fde725"/>
<circle cx="254.16" cy="212.85" r="4.17" fill="#fde725"/>
<circle cx="260.79" cy="219.29" r="4.17" fill="#fde725"/>
<circle cx="255.4" cy="207.02" r="4.17" fill="#fde725"/>
<circle cx="299.95" cy="210.55" r="4.17" fill="#fde725"/>
<circle cx="216.55" cy="209.64" r="4.17" fill="#fde725"/>
<circle cx="225.41" cy="209" r="4.17" fill="#fde725"/>
<circle cx="332.59" cy="209.53" r="4.17" fill="#fde725"/>
<circle cx="287.81" cy="212.3" r="4.17" fill="#fde725"/>
<circle cx="245.67" cy="209.98" r="4.17" fill="#fde725"/>
<circle cx="263.96" cy="207.64" r="4.17" fill="#fde725"/>
<circle cx="250.24" cy="211.04" r="4.17" fill="#fde725"/>
<circle cx="299.66" cy="207.35" r="4.17" fill="#fde725"/>
<circle cx="239.03" cy="210.12" r="4.17" fill="#fde725"/>
<circle cx="249.08" cy="220.4" r="4.17" fill="#fde725"/>
<circle cx="250.49" cy="211.66" r="4.17" fill="#fde725"/>
<circle cx="291.01" cy="213.02" r="4.17" fill="#fde725"/>
<circle cx="256.09" cy="209.07" r="4.17" fill="#fde725"/>
<circle cx="290.55" cy="208.59" r="4.17" fill="#fde725"/>
<circle cx="305.81" cy="209.26" r="4.17" fill="#fde725"/>
<circle cx="327.7" cy="214.13" r="4.17" fill="#fde725"/>
<circle cx="299.64" cy="210.23" r="4.17" fill="#fde725"/>
<circle cx="338.34" cy="206.72" r="4.17" fill="#fde725"/>
<circle cx="252.64" cy="212.95" r="4.17" fill="#fde725"/>
<circle cx="251.23" cy="209.58" r="4.17" fill="#fde725"/>
<circle cx="301.66" cy="206.99" r="4.17" fill="#fde725"/>
<circle cx="293.1" cy="209.06" r="4.17" fill="#fde725"/>
<circle cx="265.39" cy="210.6" r="4.17" fill="#fde725"/>
<circle cx="254.56" cy="211.35" r="4.17" fill="#fde725"/>
<circle cx="256.49" cy="207.91" r="4.17" fill="#fde725"/>
<circle cx="311.86" cy="209.56" r="4.17" fill="#fde725"/>
<circle cx="302.35" cy="208.68" r="4.17" fill="#fde725"/>
<circle cx="337.67" cy="208.76" r="4.17" fill="#fde725"/>
<circle cx="299.34" cy="208.51" r="4.17" fill="#fde725"/>
<circle cx="329.19" cy="209.06" r="4.17" fill="#fde725"/>
<circle cx="281.19" cy="209.25" r="4.17" fill="#fde725"/>
<circle cx="251.6" cy="208.91" r="4.17" fill="#fde725"/>
<circle cx="239.93" cy="209.47" r="4.17" fill="#fde725"/>
<circle cx="330.8" cy="207.93" r="4.17" fill="#fde725"/>
<circle cx="252.47" cy="208.62" r="4.17" fill="#fde725"/>
<circle cx="308.47" cy="208.59" r="4.17" fill="#fde725"/>
<circle cx="289.96" cy="207.15" r="4.17" fill="#fde725"/>
<circle cx="305.75" cy="210.02" r="4.17" fill="#fde725"/>
<circle cx="282.86" cy="212.32" r="4.17" fill="#fde725"/>
<circle cx="264.56" cy="211.6" r="4.17" fill="#fde725"/>
<circle cx="302.93" cy="210.82" r="4.17" fill="#fde725"/>
<circle cx="307.11" cy="211.77" r="4.17" fill="#fde725"/>
<circle cx="221.32" cy="210.86" r="4.17" fill="#fde725"/>
<circle cx="272.74" cy="210.12" r="4.17" fill="#fde725"/>
<circle cx="255.27" cy="208.42" r="4.17" fill="#fde725"/>
<circle cx="310.23" cy="207.65" r="4.17" fill="#fde725"/>
<circle cx="287.9" cy="207.43" r="4.17" fill="#fde725"/>
<circle cx="294.39" cy="208.96" r="4.17" fill="#fde725"/>
<circle cx="286.02" cy="210.53" r="4.17" fill="#fde725"/>
<circle cx="308.33" cy="207.43" r="4.17" fill="#fde725"/>
<circle cx="286.49" cy="206.22" r="4.17" fill="#fde725"/>
<circle cx="284.36" cy="208.79" r="4.17" fill="#fde725"/>
<circle cx="278.34" cy="209.6" r="4.17" fill="#fde725"/>
<circle cx="237.34" cy="208.44" r="4.17" fill="#fde725"/>
<circle cx="236.12" cy="207.09" r="4.17" fill="#fde725"/>
<circle cx="289.11" cy="210.07" r="4.17" fill="#fde725"/>
<circle cx="269.31" cy="209.57" r="4.17" fill="#fde725"/>
<circle cx="293.47" cy="211.15" r="4.17" fill="#fde725"/>
<circle cx="309.59" cy="207.13" r="4.17" fill="#fde725"/>
<circle cx="281.29" cy="209.19" r="4.17" fill="#fde725"/>
<circle cx="251.94" cy="209.85" r="4.17" fill="#fde725"/>
<circle cx="242.25" cy="211.29" r="4.17" fill="#fde725"/>
<circle cx="274.6" cy="210.33" r="4.17" fill="#fde725"/>
<circle cx="308.71" cy="207.67" r="4.17" fill="#fde725"/>
<circle cx="310.88" cy="209.84" r="4.17" fill="#fde725"/>
<circle cx="253.5" cy="210.06" r="4.17" fill="#fde725"/>
<circle cx="236.7" cy="208.46" r="4.17" fill="#fde725"/>
<circle cx="276.77" cy="207.6" r="4.17" fill="#fde725"/>
<circle cx="298.57" cy="209.47" r="4.17" fill="#fde725"/>
<circle cx="244.28" cy="208.95" r="4.17" fill="#fde725"/>
<circle cx="297.15" cy="210.99" r="4.17" fill="#fde725"/>
<circle cx="242.72" cy="210.19" r="4.17" fill="#fde725"/>
<circle cx="287.28" cy="211.99" r="4.17" fill="#fde725"/>
<circle cx="283.53" cy="206.71" r="4.17" fill="#fde725"/>
<circle cx="268.8" cy="210.72" r="4.17" fill="#fde725"/>
<circle cx="323.84" cy="211.66" r="4.17" fill="#fde725"/>
<circle cx="338.37" cy="213.1" r="4.17" fill="#fde725"/>
<circle cx="290.05" cy="209.52" r="4.17" fill="#fde725"/>
<circle cx="255.83" cy="209.24" r="4.17" fill="#fde725"/>
<circle cx="240.27" cy="210.38" r="4.17" fill="#fde725"/>
<circle cx="305.34" cy="208.95" r="4.17" fill="#fde725"/>
<circle cx="258.7" cy="208.86" r="4.17" fill="#fde725"/>
<circle cx="303.97" cy="210.13" r="4.17" fill="#fde725"/>
<circle cx="243.18" cy="212.43" r="4.17" fill="#fde725"/>
<circle cx="276.6" cy="208.82" r="4.17" fill="#fde725"/>
<circle cx="285.62" cy="207.23" r="4.17" fill="#fde725"/>
<circle cx="280.46" cy="207.54" r="4.17" fill="#fde725"/>
<circle cx="250.43" cy="212.74" r="4.17" fill="#fde725"/>
<circle cx="277.04" cy="208.77" r="4.17" fill="#fde725"/>
<circle cx="310.9" cy="209.84" r="4.17" fill="#fde725"/>
<circle cx="288.68" cy="207.59" r="4.17" fill="#fde725"/>
<circle cx="309.95" cy="206.34" r="4.17" fill="#fde725"/>
<circle cx="253.5" cy="208.51" r="4.17" fill="#fde725"/>
<circle cx="248.26" cy="208.83" r="4.17" fill="#fde725"/>
<circle cx="254.68" cy="206.65" r="4.17" fill="#fde725"/>
<circle cx="308.37" cy="210.37" r="4.17" fill="#fde725"/>
<circle cx="319.71" cy="206.44" r="4.17" fill="#fde725"/>
<circle cx="268.04" cy="208.41" r="4.17" fill="#fde725"/>
<circle cx="294.95" cy="209.78" r="4.17" fill="#fde725"/>
<circle cx="307.97" cy="212.63" r="4.17" fill="#fde725"/>
<circle cx="320.32" cy="209.06" r="4.17" fill="#fde725"/>
<circle cx="260.84" cy="208.59" r="4.17" fill="#fde725"/>
<circle cx="252.72" cy="209.18" r="4.17" fill="#fde725"/>
<circle cx="323.86" cy="208.32" r="4.17" fill="#fde725"/>
<circle cx="244.71" cy="208.8" r="4.17" fill="#fde725"/>
<circle cx="352" cy="209.53" r="4.17" fill="#fde725"/>
<circle cx="295.43" cy="211.43" r="4.17" fill="#fde725"/>
<circle cx="244.46" cy="212.12" r="4.17" fill="#fde725"/>
<circle cx="248.63" cy="211.46" r="4.17" fill="#fde725"/>
<circle cx="321.4" cy="209.2" r="4.17" fill="#fde725"/>
<circle cx="269.34" cy="209.17" r="4.17" fill="#fde725"/>
<circle cx="279.75" cy="211.49" r="4.17" fill="#fde725"/>
<circle cx="300.75" cy="213.1" r="4.17" fill="#fde725"/>
<circle cx="266.65" cy="207.4" r="4.17" fill="#fde725"/>
<circle cx="305.28" cy="210.04" r="4.17" fill="#fde725"/>
<circle cx="292.9" cy="207.53" r="4.17" fill="#fde725"/>
<circle cx="294.78" cy="208.62" r="4.17" fill="#fde725"/>
<circle cx="310.58" cy="209.38" r="4.17" fill="#fde725"/>
<circle cx="264.01" cy="208.86" r="4.17" fill="#fde725"/>
<circle cx="312.41" cy="212.68" r="4.17" fill="#fde725"/>
<circle cx="250.98" cy="208.2" r="4.17" fill="#fde725"/>
<circle cx="257.17" cy="209.16" r="4.17" fill="#fde725"/>
<circle cx="285.13" cy="211.37" r="4.17" fill="#fde725"/>
<circle cx="268.87" cy="208.99" r="4.17" fill="#fde725"/>
<circle cx="286.82" cy="207.95" r="4.17" fill="#fde725"/>
<circle cx="263.09" cy="210.07" r="4.17" fill="#fde725"/>
<circle cx="302.1" cy="210.79" r="4.17" fill="#fde725"/>
<circle cx="312.27" cy="208.63" r="4.17" fill="#fde725"/>
<circle cx="214.49" cy="209.15" r="4.17" fill="#fde725"/>
<circle cx="286.22" cy="208.67" r="4.17" fill="#fde725"/>
<circle cx="254.48" cy="208.64" r="4.17" fill="#fde725"/>
<circle cx="295.23" cy="209.44" r="4.17" fill="#fde725"/>
<circle cx="308.62" cy="208.05" r="4.17" fill="#fde725"/>
<circle cx="339.93" cy="210.18" r="4.17" fill="#fde725"/>
<circle cx="302.31" cy="209.44" r="4.17" fill="#fde725"/>
<circle cx="299.75" cy="209.17" r="4.17" fill="#fde725"/>
<circle cx="238.71" cy="214.23" r="4.17" fill="#fde725"/>
<circle cx="321.24" cy="208.72" r="4.17" fill="#fde725"/>
<circle cx="293.9" cy="210.51" r="4.17" fill="#fde725"/>
<circle cx="255.43" cy="209.14" r="4.17" fill="#fde725"/>
<circle cx="260.89" cy="210.96" r="4.17" fill="#fde725"/>
<circle cx="244.28" cy="211.15" r="4.17" fill="#fde725"/>
<circle cx="290.21" cy="209.6" r="4.17" fill="#fde725"/>
<circle cx="301.22" cy="209.99" r="4.17" fill="#fde725"/>
<circle cx="242.02" cy="210.07" r="4.17" fill="#fde725"/>
<circle cx="288.17" cy="206.63" r="4.17" fill="#fde725"/>
<circle cx="304.64" cy="208.98" r="4.17" fill="#fde725"/>
<circle cx="250.59" cy="208.84" r="4.17" fill="#fde725"/>
<circle cx="302.41" cy="209.09" r="4.17" fill="#fde725"/>
<circle cx="250.03" cy="210.07" r="4.17" fill="#fde725"/>
<circle cx="255.76" cy="208.3" r="4.17" fill="#fde725"/>
<circle cx="330.49" cy="207.64" r="4.17" fill="#fde725"/>
<circle cx="298.44" cy="207.93" r="4.17" fill="#fde725"/>
<circle cx="305.22" cy="209" r="4.17" fill="#fde725"/>
<circle cx="245.75" cy="210.38" r="4.17" fill="#fde725"/>
<circle cx="291.73" cy="207.2" r="4.17" fill="#fde725"/>
<circle cx="311.47" cy="215.59" r="4.17" fill="#fde725"/>
<circle cx="306.63" cy="208.37" r="4.17" fill="#fde725"/>
<circle cx="292.97" cy="209.16" r="4.17" fill="#fde725"/>
<circle cx="294.71" cy="209.27" r="4.17" fill="#fde725"/>
<circle cx="271.19" cy="209.21" r="4.17" fill="#fde725"/>
<circle cx="269.76" cy="208.01" r="4.17" fill="#fde725"/>
<circle cx="313.88" cy="209.15" r="4.17" fill="#fde725"/>
<circle cx="283.59" cy="208.17" r="4.17" fill="#fde725"/>
<circle cx="280.92" cy="210.65" r="4.17" fill="#fde725"/>
<circle cx="266.88" cy="207.57" r="4.17" fill="#fde725"/>
<circle cx="270.63" cy="206.37" r="4.17" fill="#fde725"/>
<circle cx="246.94" cy="211.6" r="4.17" fill="#fde725"/>
<circle cx="279.81" cy="209.16" r="4.17" fill="#fde725"/>
<circle cx="288.05" cy="207.6" r="4.17" fill="#fde725"/>
<circle cx="293.92" cy="212.87" r="4.17" fill="#fde725"/>
<circle cx="308.14" cy="207.71" r="4.17" fill="#fde725"/>
<circle cx="299.64" cy="210.72" r="4.17" fill="#fde725"/>
<circle cx="245" cy="208.59" r="4.17" fill="#fde725"/>
<circle cx="262.88" cy="210.15" r="4.17" fill="#fde725"/>
<circle cx="314.44" cy="211.13" r="4.17" fill="#fde725"/>
<circle cx="273.29" cy="209.26" r="4.17" fill="#fde725"/>
<circle cx="326.6" cy="208.09" r="4.17" fill="#fde725"/>
<circle cx="286.47" cy="208.65" r="4.17" fill="#fde725"/>
<circle cx="303.48" cy="209.99" r="4.17" fill="#fde725"/>
<circle cx="307.68" cy="208.38" r="4.17" fill="#fde725"/>
<circle cx="303.84" cy="209.86" r="4.17" fill="#fde725"/>
<circle cx="264.36" cy="209.91" r="4.17" fill="#fde725"/>
<circle cx="252.62" cy="206.2" r="4.17" fill="#fde725"/>
<circle cx="256.13" cy="207.06" r="4.17" fill="#fde725"/>
<circle cx="236.98" cy="209.06" r="4.17" fill="#fde725"/>
<circle cx="261.34" cy="206.45" r="4.17" fill="#fde725"/>
<circle cx="299.74" cy="208.94" r="4.17" fill="#fde725"/>
<circle cx="253.9" cy="207.78" r="4.17" fill="#fde725"/>
<circle cx="308.79" cy="209.76" r="4.17" fill="#fde725"/>
<circle cx="333.86" cy="208.9" r="4.17" fill="#fde725"/>
<circle cx="291.7" cy="213.04" r="4.17" fill="#fde725"/>
<circle cx="258.93" cy="212.62" r="4.17" fill="#fde725"/>
<circle cx="266.17" cy="211.81" r="4.17" fill="#fde725"/>
<circle cx="265.65" cy="209.74" r="4.17" fill="#fde725"/>
<circle cx="256.05" cy="209.52" r="4.17" fill="#fde725"/>
<circle cx="301.34" cy="209.39" r="4.17" fill="#fde725"/>
<circle cx="317.99" cy="208.15" r="4.17" fill="#fde725"/>
<circle cx="288.14" cy="208.76" r="4.17" fill="#fde725"/>
<circle cx="296.63" cy="210.31" r="4.17" fill="#fde725"/>
<circle cx="289.89" cy="208.68" r="4.17" fill="#fde725"/>
<circle cx="293.82" cy="206.79" r="4.17" fill="#fde725"/>
<circle cx="241.34" cy="211.12" r="4.17" fill="#fde725"/>
<circle cx="282.45" cy="208.82" r="4.17" fill="#fde725"/>
<circle cx="298.74" cy="208.82" r="4.17" fill="#fde725"/>
<circle cx="292.86" cy="209.61" r="4.17" fill="#fde725"/>
<circle cx="250.64" cy="208.85" r="4.17" fill="#fde725"/>
<circle cx="273.44" cy="208.72" r="4.17" fill="#fde725"/>
<circle cx="282.04" cy="209.47" r="4.17" fill="#fde725"/>
<circle cx="246.44" cy="209.76" r="4.17" fill="#fde725"/>
<circle cx="303.73" cy="210.33" r="4.17" fill="#fde725"/>
<circle cx="286.48" cy="207.34" r="4.17" fill="#fde725"/>
<circle cx="308.85" cy="211.98" r="4.17" fill="#fde725"/>
<circle cx="299.52" cy="211.99" r="4.17" fill="#fde725"/>
<circle cx="238.99" cy="208" r="4.17" fill="#fde725"/>
<circle cx="270.33" cy="206.81" r="4.17" fill="#fde725"/>
<circle cx="310.81" cy="210.06" r="4.17" fill="#fde725"/>
<circle cx="333.59" cy="208.85" r="4.17" fill="#fde725"/>
<circle cx="256.79" cy="209.78" r="4.17" fill="#fde725"/>
<circle cx="220.23" cy="208.96" r="4.17" fill="#fde725"/>
<circle cx="297.74" cy="207.75" r="4.17" fill="#fde725"/>
<circle cx="279.66" cy="211.66" r="4.17" fill="#fde725"/>
<circle cx="237.47" cy="209.88" r="4.17" fill="#fde725"/>
<circle cx="302.21" cy="209.15" r="4.17" fill="#fde725"/>
<circle cx="307.36" cy="210.17" r="4.17" fill="#fde725"/>
<circle cx="287.98" cy="214.24" r="4.17" fill="#fde725"/>
<circle cx="263.93" cy="208.2" r="4.17" fill="#fde725"/>
<circle cx="307.83" cy="208.57" r="4.17" fill="#fde725"/>
<circle cx="300.83" cy="206.6" r="4.17" fill="#fde725"/>
<circle cx="245.36" cy="206.93" r="4.17" fill="#fde725"/>
<circle cx="260.14" cy="209.14" r="4.17" fill="#fde725"/>
<circle cx="266.7" cy="208.84" r="4.17" fill="#fde725"/>
<circle cx="293.23" cy="209.56" r="4.17" fill="#fde725"/>
<circle cx="248.6" cy="212.7" r="4.17" fill="#fde725"/>
<circle cx="292.8" cy="211.52" r="4.17" fill="#fde725"/>
<circle cx="260.65" cy="209.26" r="4.17" fill="#fde725"/>
<circle cx="271.04" cy="210.13" r="4.17" fill="#fde725"/>
<circle cx="254.33" cy="208.01" r="4.17" fill="#fde725"/>
<circle cx="297.26" cy="210.64" r="4.17" fill="#fde725"/>
<circle cx="248.52" cy="208.06" r="4.17" fill="#fde725"/>
<circle cx="267.65" cy="209.94" r="4.17" fill="#fde725"/>
<circle cx="245.42" cy="206.2" r="4.17" fill="#fde725"/>
<circle cx="304.36" cy="209.39" r="4.17" fill="#fde725"/>
<circle cx="314.6" cy="214.85" r="4.17" fill="#fde725"/>
<circle cx="226.48" cy="210.59" r="4.17" fill="#fde725"/>
<circle cx="270.4" cy="209.8" r="4.17" fill="#fde725"/>
<circle cx="267.69" cy="209.51" r="4.17" fill="#fde725"/>
<circle cx="305.76" cy="213.47" r="4.17" fill="#fde725"/>
<circle cx="240.67" cy="207.16" r="4.17" fill="#fde725"/>
<circle cx="319.28" cy="210" r="4.17" fill="#fde725"/>
<circle cx="308.22" cy="209.38" r="4.17" fill="#fde725"/>
<circle cx="238.8" cy="209.45" r="4.17" fill="#fde725"/>
<circle cx="241.02" cy="209.29" r="4.17" fill="#fde725"/>
<circle cx="295.45" cy="209.01" r="4.17" fill="#fde725"/>
<circle cx="301.07" cy="212.55" r="4.17" fill="#fde725"/>
<circle cx="328.32" cy="208.34" r="4.17" fill="#fde725"/>
<circle cx="306.9" cy="214.5" r="4.17" fill="#fde725"/>
<circle cx="298.51" cy="208.12" r="4.17" fill="#fde725"/>
<circle cx="315.1" cy="207.96" r="4.17" fill="#fde725"/>
<circle cx="252.73" cy="210" r="4.17" fill="#fde725"/>
<circle cx="348.65" cy="208.86" r="4.17" fill="#fde725"/>
<circle cx="323.48" cy="211.35" r="4.17" fill="#fde725"/>
<circle cx="266.64" cy="211.19" r="4.17" fill="#fde725"/>
<circle cx="304.73" cy="209.14" r="4.17" fill="#fde725"/>
<circle cx="312.57" cy="209.01" r="4.17" fill="#fde725"/>
<circle cx="281.61" cy="207.62" r="4.17" fill="#fde725"/>
<circle cx="262.63" cy="208.64" r="4.17" fill="#fde725"/>
<circle cx="261.57" cy="211.34" r="4.17" fill="#fde725"/>
<circle cx="252.36" cy="208.43" r="4.17" fill="#fde725"/>
<circle cx="232.89" cy="209.5" r="4.17" fill="#fde725"/>
<circle cx="310.24" cy="206.41" r="4.17" fill="#fde725"/>
<circle cx="301.54" cy="208.08" r="4.17" fill="#fde725"/>
<circle cx="298.07" cy="210.57" r="4.17" fill="#fde725"/>
<circle cx="227.87" cy="208.04" r="4.17" fill="#fde725"/>
<circle cx="300.97" cy="208.49" r="4.17" fill="#fde725"/>
<circle cx="304.14" cy="211.49" r="4.17" fill="#fde725"/>
<circle cx="242.13" cy="211.56" r="4.17" fill="#fde725"/>
<circle cx="221.55" cy="211.68" r="4.17" fill="#fde725"/>
<circle cx="303.53" cy="211.13" r="4.17" fill="#fde725"/>
<circle cx="242.8" cy="217.95" r="4.17" fill="#fde725"/>
<circle cx="315.87" cy="208.82" r="4.17" fill="#fde725"/>
<circle cx="276.51" cy="208.79" r="4.17" fill="#fde725"/>
<circle cx="287.15" cy="208.05" r="4.17" fill="#fde725"/>
<circle cx="297.2" cy="207.79" r="4.17" fill="#fde725"/>
<circle cx="322.45" cy="212.48" r="4.17" fill="#fde725"/>
<circle cx="222.48" cy="209.28" r="4.17" fill="#fde725"/>
<circle cx="278.39" cy="209.68" r="4.17" fill="#fde725"/>
<circle cx="298.42" cy="209.3" r="4.17" fill="#fde725"/>
<circle cx="289.96" cy="212.15" r="4.17" fill="#fde725"/>
<circle cx="229.5" cy="209.26" r="4.17" fill="#fde725"/>
<circle cx="291.51" cy="206.4" r="4.17" fill="#fde725"/>
<circle cx="277.18" cy="209.63" r="4.17" fill="#fde725"/>
<circle cx="262.24" cy="212.37" r="4.17" fill="#fde725"/>
<circle cx="259.18" cy="210.58" r="4.17" fill="#fde725"/>
<circle cx="268.55" cy="206.98" r="4.17" fill="#fde725"/>
<circle cx="252.77" cy="210.03" r="4.17" fill="#fde725"/>
<circle cx="282.07" cy="207.94" r="4.17" fill="#fde725"/>
<circle cx="283.26" cy="209.29" r="4.17" fill="#fde725"/>
<circle cx="313.51" cy="209.64" r="4.17" fill="#fde725"/>
<circle cx="301.26" cy="209.38" r="4.17" fill="#fde725"/>
<circle cx="326.4" cy="208.73" r="4.17" fill="#fde725"/>
<circle cx="294.16" cy="207.15" r="4.17" fill="#fde725"/>
<circle cx="295.66" cy="208.32" r="4.17" fill="#fde725"/>
<circle cx="302.35" cy="210.31" r="4.17" fill="#fde725"/>
<circle cx="305.05" cy="214.88" r="4.17" fill="#fde725"/>
<circle cx="306.08" cy="211.93" r="4.17" fill="#fde725"/>
<circle cx="338.53" cy="208.74" r="4.17" fill="#fde725"/>
<circle cx="297.61" cy="213.99" r="4.17" fill="#fde725"/>
<circle cx="302.97" cy="207.32" r="4.17" fill="#fde725"/>
<circle cx="279.67" cy="210.31" r="4.17" fill="#fde725"/>
<circle cx="299.08" cy="211.36" r="4.17" fill="#fde725"/>
<circle cx="275.24" cy="210.84" r="4.17" fill="#fde725"/>
<circle cx="319.16" cy="211.02" r="4.17" fill="#fde725"/>
<circle cx="292.44" cy="208.91" r="4.17" fill="#fde725"/>
<circle cx="314.98" cy="207.24" r="4.17" fill="#fde725"/>
<circle cx="310.34" cy="207.75" r="4.17" fill="#fde725"/>
<circle cx="308.99" cy="208.55" r="4.17" fill="#fde725"/>
<circle cx="270.05" cy="209.25" r="4.17" fill="#fde725"/>
<circle cx="297.9" cy="207.31" r="4.17" fill="#fde725"/>
<circle cx="304.82" cy="215.12" r="4.17" fill="#fde725"/>
<circle cx="299.04" cy="210.66" r="4.17" fill="#fde725"/>
<circle cx="307.43" cy="208.13" r="4.17" fill="#fde725"/>
<circle cx="214.88" cy="208.97" r="4.17" fill="#fde725"/>
<circle cx="245.98" cy="208.93" r="4.17" fill="#fde725"/>
<circle cx="252.97" cy="210.46" r="4.17" fill="#fde725"/>
<circle cx="259.98" cy="207.25" r="4.17" fill="#fde725"/>
<circle cx="262.8" cy="208.72" r="4.17" fill="#fde725"/>
<circle cx="338.57" cy="209.26" r="4.17" fill="#fde725"/>
<circle cx="290.01" cy="212.26" r="4.17" fill="#fde725"/>
<circle cx="273.65" cy="211.33" r="4.17" fill="#fde725"/>
<circle cx="305.88" cy="213.55" r="4.17" fill="#fde725"/>
<circle cx="265.26" cy="212.27" r="4.17" fill="#fde725"/>
<circle cx="347.24" cy="208.82" r="4.17" fill="#fde725"/>
<circle cx="351.04" cy="209.24" r="4.17" fill="#fde725"/>
<circle cx="224.86" cy="214.16" r="4.17" fill="#fde725"/>
<circle cx="327.32" cy="207.34" r="4.17" fill="#fde725"/>
<circle cx="308.36" cy="208.84" r="4.17" fill="#fde725"/>
<circle cx="246.64" cy="207.02" r="4.17" fill="#fde725"/>
<circle cx="240.43" cy="211.41" r="4.17" fill="#fde725"/>
<circle cx="313.21" cy="208.8" r="4.17" fill="#fde725"/>
<circle cx="255.14" cy="210.84" r="4.17" fill="#fde725"/>
<circle cx="287.3" cy="210.05" r="4.17" fill="#fde725"/>
<circle cx="273.3" cy="210.97" r="4.17" fill="#fde725"/>
<circle cx="297.86" cy="208.41" r="4.17" fill="#fde725"/>
<circle cx="250.15" cy="209.3" r="4.17" fill="#fde725"/>
<circle cx="326.38" cy="209.25" r="4.17" fill="#fde725"/>
<circle cx="286.29" cy="207.32" r="4.17" fill="#fde725"/>
<circle cx="288.27" cy="207.41" r="4.17" fill="#fde725"/>
<circle cx="277.32" cy="207.21" r="4.17" fill="#fde725"/>
<circle cx="256.3" cy="207.29" r="4.17" fill="#fde725"/>
<circle cx="309.01" cy="207.25" r="4.17" fill="#fde725"/>
<circle cx="324.59" cy="208.68" r="4.17" fill="#fde725"/>
<circle cx="284.79" cy="209.15" r="4.17" fill="#fde725"/>
<circle cx="290.78" cy="213.89" r="4.17" fill="#fde725"/>
<circle cx="246.82" cy="209.84" r="4.17" fill="#fde725"/>
<circle cx="287.61" cy="209.26" r="4.17" fill="#fde725"/>
<circle cx="301.05" cy="208.7" r="4.17" fill="#fde725"/>
<circle cx="237.05" cy="207.06" r="4.17" fill="#fde725"/>
<circle cx="232.11" cy="208.2" r="4.17" fill="#fde725"/>
<circle cx="302.78" cy="209.86" r="4.17" fill="#fde725"/>
<circle cx="230.62" cy="209.86" r="4.17" fill="#fde725"/>
<circle cx="259.48" cy="208.92" r="4.17" fill="#fde725"/>
<circle cx="255.71" cy="208.03" r="4.17" fill="#fde725"/>
<circle cx="295.89" cy="209.32" r="4.17" fill="#fde725"/>
<circle cx="289.11" cy="208.56" r="4.17" fill="#fde725"/>
<circle cx="286.49" cy="209.22" r="4.17" fill="#fde725"/>
<circle cx="301.03" cy="212.64" r="4.17" fill="#fde725"/>
<circle cx="303.34" cy="208.93" r="4.17" fill="#fde725"/>
<circle cx="232.68" cy="209.06" r="4.17" fill="#fde725"/>
<circle cx="325.73" cy="209.32" r="4.17" fill="#fde725"/>
<circle cx="293.8" cy="210.43" r="4.17" fill="#fde725"/>
<circle cx="306.39" cy="210.15" r="4.17" fill="#fde725"/>
<circle cx="345.47" cy="207.46" r="4.17" fill="#fde725"/>
<circle cx="301.34" cy="210.41" r="4.17" fill="#fde725"/>
<circle cx="245.72" cy="209.69" r="4.17" fill="#fde725"/>
<circle cx="252.26" cy="208.37" r="4.17" fill="#fde725"/>
<circle cx="240.03" cy="208.74" r="4.17" fill="#fde725"/>
<circle cx="265.43" cy="213.36" r="4.17" fill="#fde725"/>
<circle cx="293.29" cy="208.95" r="4.17" fill="#fde725"/>
<circle cx="283.82" cy="206.39" r="4.17" fill="#fde725"/>
<circle cx="285.73" cy="209.46" r="4.17" fill="#fde725"/>
<circle cx="267.22" cy="207.71" r="4.17" fill="#fde725"/>
<circle cx="278.22" cy="208.69" r="4.17" fill="#fde725"/>
<circle cx="307.34" cy="208.6" r="4.17" fill="#fde725"/>
<circle cx="308.6" cy="208.8" r="4.17" fill="#fde725"/>
<circle cx="236.96" cy="206.9" r="4.17" fill="#fde725"/>
<circle cx="313.1" cy="207.51" r="4.17" fill="#fde725"/>
<circle cx="257.56" cy="208.28" r="4.17" fill="#fde725"/>
<circle cx="250.28" cy="207.61" r="4.17" fill="#fde725"/>
<circle cx="267.89" cy="210.29" r="4.17" fill="#fde725"/>
<circle cx="265.76" cy="207.07" r="4.17" fill="#fde725"/>
<circle cx="298.63" cy="209.63" r="4.17" fill="#fde725"/>
<circle cx="253.45" cy="209.2" r="4.17" fill="#fde725"/>
<circle cx="300.28" cy="208.8" r="4.17" fill="#fde725"/>
<circle cx="286.94" cy="209.14" r="4.17" fill="#fde725"/>
<circle cx="306.92" cy="209.21" r="4.17" fill="#fde725"/>
<circle cx="277.66" cy="209.46" r="4.17" fill="#fde725"/>
<circle cx="258.4" cy="210.78" r="4.17" fill="#fde725"/>
<circle cx="236.16" cy="210.11" r="4.17" fill="#fde725"/>
<circle cx="297.27" cy="212.56" r="4.17" fill="#fde725"/>
<circle cx="334.6" cy="209.39" r="4.17" fill="#fde725"/>
<circle cx="320.64" cy="209.61" r="4.17" fill="#fde725"/>
<circle cx="278.07" cy="212.19" r="4.17" fill="#fde725"/>
<circle cx="269.1" cy="209.14" r="4.17" fill="#fde725"/>
<circle cx="241.36" cy="210.53" r="4.17" fill="#fde725"/>
<circle cx="239.97" cy="214.15" r="4.17" fill="#fde725"/>
<circle cx="255.53" cy="208.74" r="4.17" fill="#fde725"/>
<circle cx="298.02" cy="209.45" r="4.17" fill="#fde725"/>
<circle cx="240.63" cy="208.98" r="4.17" fill="#fde725"/>
<circle cx="283.66" cy="208.02" r="4.17" fill="#fde725"/>
<circle cx="237.11" cy="208.97" r="4.17" fill="#fde725"/>
<circle cx="317.28" cy="210.91" r="4.17" fill="#fde725"/>
<circle cx="283.07" cy="209.48" r="4.17" fill="#fde725"/>
<circle cx="302.1" cy="208.62" r="4.17" fill="#fde725"/>
<circle cx="253.73" cy="207.62" r="4.17" fill="#fde725"/>
<circle cx="290.34" cy="210.41" r="4.17" fill="#fde725"/>
<circle cx="270" cy="208.16" r="4.17" fill="#fde725"/>
<circle cx="256.79" cy="208.44" r="4.17" fill="#fde725"/>
<circle cx="312.62" cy="209.15" r="4.17" fill="#fde725"/>
<circle cx="307.63" cy="209.98" r="4.17" fill="#fde725"/>
<circle cx="322.21" cy="209.25" r="4.17" fill="#fde725"/>
<circle cx="249.07" cy="212.11" r="4.17" fill="#fde725"/>
<circle cx="311.16" cy="209.1" r="4.17" fill="#fde725"/>
<circle cx="290.16" cy="209.84" r="4.17" fill="#fde725"/>
<circle cx="294.67" cy="209.66" r="4.17" fill="#fde725"/>
<circle cx="304.96" cy="208.48" r="4.17" fill="#fde725"/>
<circle cx="317.56" cy="209.06" r="4.17" fill="#fde725"/>
<circle cx="236.33" cy="212.05" r="4.17" fill="#fde725"/>
<circle cx="290.38" cy="207.99" r="4.17" fill="#fde725"/>
<circle cx="300.56" cy="210.69" r="4.17" fill="#fde725"/>
<circle cx="236.87" cy="208.61" r="4.17" fill="#fde725"/>
<circle cx="251.43" cy="209.52" r="4.17" fill="#fde725"/>
<circle cx="267.63" cy="210.92" r="4.17" fill="#fde725"/>
<circle cx="304.82" cy="212.41" r="4.17" fill="#fde725"/>
<circle cx="266.09" cy="210.98" r="4.17" fill="#fde725"/>
<circle cx="340.52" cy="208.3" r="4.17" fill="#fde725"/>
<circle cx="304.95" cy="209.78" r="4.17" fill="#fde725"/>
<circle cx="265.02" cy="209.71" r="4.17" fill="#fde725"/>
<circle cx="227.94" cy="213.19" r="4.17" fill="#fde725"/>
<circle cx="276.8" cy="211.76" r="4.17" fill="#fde725"/>
<circle cx="323.13" cy="209.78" r="4.17" fill="#fde725"/>
<circle cx="249.19" cy="208.22" r="4.17" fill="#fde725"/>
<circle cx="281.62" cy="206.57" r="4.17" fill="#fde725"/>
<circle cx="247.5" cy="208.09" r="4.17" fill="#fde725"/>
<circle cx="303.41" cy="211.01" r="4.17" fill="#fde725"/>
<circle cx="303.11" cy="208.28" r="4.17" fill="#fde725"/>
<circle cx="307.24" cy="206.65" r="4.17" fill="#fde725"/>
<circle cx="291.72" cy="208.1" r="4.17" fill="#fde725"/>
<circle cx="274.48" cy="207.4" r="4.17" fill="#fde725"/>
<circle cx="286.73" cy="206.95" r="4.17" fill="#fde725"/>
<circle cx="297.59" cy="208.16" r="4.17" fill="#fde725"/>
<circle cx="312.71" cy="210.13" r="4.17" fill="#fde725"/>
<circle cx="281.26" cy="209.66" r="4.17" fill="#fde725"/>
<circle cx="285.75" cy="208.77" r="4.17" fill="#fde725"/>
<circle cx="226.77" cy="209.32" r="4.17" fill="#fde725"/>
<circle cx="269" cy="207.8" r="4.17" fill="#fde725"/>
<circle cx="280.43" cy="209.55" r="4.17" fill="#fde725"/>
<circle cx="280.66" cy="209.03" r="4.17" fill="#fde725"/>
<circle cx="314.5" cy="208.68" r="4.17" fill="#fde725"/>
<circle cx="224.63" cy="210.56" r="4.17" fill="#fde725"/>
<circle cx="221.48" cy="207.17" r="4.17" fill="#fde725"/>
<circle cx="295.56" cy="208.69" r="4.17" fill="#fde725"/>
<circle cx="286.96" cy="208.76" r="4.17" fill="#fde725"/>
<circle cx="241.47" cy="208.56" r="4.17" fill="#fde725"/>
<circle cx="304.42" cy="209.86" r="4.17" fill="#fde725"/>
<circle cx="306.81" cy="206.37" r="4.17" fill="#fde725"/>
<circle cx="292.6" cy="208.58" r="4.17" fill="#fde725"/>
<circle cx="271.45" cy="207.27" r="4.17" fill="#fde725"/>
<circle cx="290.35" cy="210.9" r="4.17" fill="#fde725"/>
<circle cx="258.54" cy="208.5" r="4.17" fill="#fde725"/>
<circle cx="257.7" cy="208.58" r="4.17" fill="#fde725"/>
<circle cx="288.85" cy="207.44" r="4.17" fill="#fde725"/>
<circle cx="257.07" cy="209.76" r="4.17" fill="#fde725"/>
<circle cx="282.53" cy="209.13" r="4.17" fill="#fde725"/>
<circle cx="308.11" cy="207.28" r="4.17" fill="#fde725"/>
<circle cx="241.18" cy="208.2" r="4.17" fill="#fde725"/>
<circle cx="255.13" cy="212.25" r="4.17" fill="#fde725"/>
<circle cx="234.07" cy="209.87" r="4.17" fill="#fde725"/>
<circle cx="225.36" cy="209.34" r="4.17" fill="#fde725"/>
<circle cx="302.54" cy="209.69" r="4.17" fill="#fde725"/>
<circle cx="323.35" cy="208.71" r="4.17" fill="#fde725"/>
<circle cx="286.28" cy="209.27" r="4.17" fill="#fde725"/>
<circle cx="331.78" cy="207.98" r="4.17" fill="#fde725"/>
<circle cx="280.01" cy="211.84" r="4.17" fill="#fde725"/>
<circle cx="305" cy="210.74" r="4.17" fill="#fde725"/>
<circle cx="276.89" cy="208.77" r="4.17" fill="#fde725"/>
<circle cx="279.8" cy="206.91" r="4.17" fill="#fde725"/>
<circle cx="314.8" cy="207.82" r="4.17" fill="#fde725"/>
<circle cx="330.47" cy="210.84" r="4.17" fill="#fde725"/>
<circle cx="269.7" cy="210.06" r="4.17" fill="#fde725"/>
<circle cx="219.39" cy="208.72" r="4.17" fill="#fde725"/>
<circle cx="291.12" cy="208.28" r="4.17" fill="#fde725"/>
<circle cx="281.65" cy="211.76" r="4.17" fill="#fde725"/>
<circle cx="276.2" cy="211.91" r="4.17" fill="#fde725"/>
<circle cx="289.14" cy="208.72" r="4.17" fill="#fde725"/>
<circle cx="239.66" cy="207.89" r="4.17" fill="#fde725"/>
<circle cx="252.03" cy="208.97" r="4.17" fill="#fde725"/>
<circle cx="252.67" cy="208.82" r="4.17" fill="#fde725"/>
<circle cx="252.29" cy="207.84" r="4.17" fill="#fde725"/>
<circle cx="304.58" cy="210.55" r="4.17" fill="#fde725"/>
<circle cx="252.54" cy="208.43" r="4.17" fill="#fde725"/>
<circle cx="236.83" cy="207.95" r="4.17" fill="#fde725"/>
<circle cx="328.17" cy="210.33" r="4.17" fill="#fde725"/>
<circle cx="244.95" cy="208.83" r="4.17" fill="#fde725"/>
<circle cx="297.65" cy="208.41" r="4.17" fill="#fde725"/>
<circle cx="248.33" cy="206.9" r="4.17" fill="#fde725"/>
<circle cx="308.57" cy="209.26" r="4.17" fill="#fde725"/>
<circle cx="229" cy="206.94" r="4.17" fill="#fde725"/>
<circle cx="235.69" cy="208.95" r="4.17" fill="#fde725"/>
<circle cx="300.82" cy="207.91" r="4.17" fill="#fde725"/>
<circle cx="283.87" cy="207.29" r="4.17" fill="#fde725"/>
<circle cx="246.97" cy="207.74" r="4.17" fill="#fde725"/>
<circle cx="286.35" cy="210.99" r="4.17" fill="#fde725"/>
<circle cx="295.07" cy="208.1" r="4.17" fill="#fde725"/>
<circle cx="313.87" cy="211.23" r="4.17" fill="#fde725"/>
<circle cx="297.79" cy="207.9" r="4.17" fill="#fde725"/>
<circle cx="304.58" cy="208.82" r="4.17" fill="#fde725"/>
<circle cx="276.65" cy="209.67" r="4.17" fill="#fde725"/>
<circle cx="290.32" cy="210" r="4.17" fill="#fde725"/>
<circle cx="326.77" cy="208.44" r="4.17" fill="#fde725"/>
<circle cx="268.53" cy="209.67" r="4.17" fill="#fde725"/>
<circle cx="293.83" cy="210.75" r="4.17" fill="#fde725"/>
<circle cx="262.75" cy="211.31" r="4.17" fill="#fde725"/>
<circle cx="285.35" cy="211.91" r="4.17" fill="#fde725"/>
<circle cx="249.11" cy="209.78" r="4.17" fill="#fde725"/>
<circle cx="264.84" cy="209.36" r="4.17" fill="#fde725"/>
<circle cx="260.23" cy="209.78" r="4.17" fill="#fde725"/>
<circle cx="279.46" cy="216.14" r="4.17" fill="#fde725"/>
<circle cx="228.18" cy="212.76" r="4.17" fill="#fde725"/>
<circle cx="305.43" cy="208.5" r="4.17" fill="#fde725"/>
<circle cx="267.51" cy="212.25" r="4.17" fill="#fde725"/>
<circle cx="243.15" cy="211.28" r="4.17" fill="#fde725"/>
<circle cx="265.13" cy="211.69" r="4.17" fill="#fde725"/>
<circle cx="244.93" cy="209.04" r="4.17" fill="#fde725"/>
<circle cx="314.2" cy="208.76" r="4.17" fill="#fde725"/>
<circle cx="257.42" cy="208.36" r="4.17" fill="#fde725"/>
<circle cx="301.07" cy="208.11" r="4.17" fill="#fde725"/>
<circle cx="260.11" cy="207.12" r="4.17" fill="#fde725"/>
<circle cx="236.43" cy="210.74" r="4.17" fill="#fde725"/>
<circle cx="258.89" cy="209.02" r="4.17" fill="#fde725"/>
<circle cx="291.43" cy="209.22" r="4.17" fill="#fde725"/>
<circle cx="299.78" cy="210.46" r="4.17" fill="#fde725"/>
<circle cx="290.96" cy="208.12" r="4.17" fill="#fde725"/>
<circle cx="246.14" cy="206.44" r="4.17" fill="#fde725"/>
<circle cx="241.13" cy="214.35" r="4.17" fill="#fde725"/>
<circle cx="254.35" cy="209.78" r="4.17" fill="#fde725"/>
<circle cx="262.85" cy="207.47" r="4.17" fill="#fde725"/>
<circle cx="298.04" cy="209.46" r="4.17" fill="#fde725"/>
<circle cx="330.78" cy="207.92" r="4.17" fill="#fde725"/>
<circle cx="263.22" cy="213.07" r="4.17" fill="#fde725"/>
<circle cx="303.59" cy="208.96" r="4.17" fill="#fde725"/>
<circle cx="332.47" cy="210.76" r="4.17" fill="#fde725"/>
<circle cx="256.65" cy="210.35" r="4.17" fill="#fde725"/>
<circle cx="302.07" cy="208.94" r="4.17" fill="#fde725"/>
<circle cx="300.81" cy="208.92" r="4.17" fill="#fde725"/>
<circle cx="241.54" cy="209.14" r="4.17" fill="#fde725"/>
<circle cx="233.37" cy="207.28" r="4.17" fill="#fde725"/>
<circle cx="242.74" cy="211.55" r="4.17" fill="#fde725"/>
<circle cx="234.06" cy="211.11" r="4.17" fill="#fde725"/>
<circle cx="334.3" cy="209.86" r="4.17" fill="#fde725"/>
<circle cx="290.88" cy="209.79" r="4.17" fill="#fde725"/>
<circle cx="318.24" cy="209.27" r="4.17" fill="#fde725"/>
<circle cx="299.97" cy="209.45" r="4.17" fill="#fde725"/>
<circle cx="250.14" cy="208.05" r="4.17" fill="#fde725"/>
<circle cx="278.24" cy="210.44" r="4.17" fill="#fde725"/>
<circle cx="287.04" cy="208.62" r="4.17" fill="#fde725"/>
<circle cx="234.94" cy="207.52" r="4.17" fill="#fde725"/>
<circle cx="256.23" cy="206.64" r="4.17" fill="#fde725"/>
<circle cx="319.49" cy="207.8" r="4.17" fill="#fde725"/>
<circle cx="270.05" cy="208.41" r="4.17" fill="#fde725"/>
<circle cx="277.21" cy="209.55" r="4.17" fill="#fde725"/>
<circle cx="279.3" cy="210.92" r="4.17" fill="#fde725"/>
<circle cx="292.83" cy="208.23" r="4.17" fill="#fde725"/>
<circle cx="250.73" cy="208.4" r="4.17" fill="#fde725"/>
<circle cx="246.42" cy="208.51" r="4.17" fill="#fde725"/>
<circle cx="314.62" cy="210.04" r="4.17" fill="#fde725"/>
<circle cx="301.12" cy="210.94" r="4.17" fill="#fde725"/>
<circle cx="318.11" cy="208.64" r="4.17" fill="#fde725"/>
<circle cx="260.97" cy="209.27" r="4.17" fill="#fde725"/>
<circle cx="293.49" cy="208.18" r="4.17" fill="#fde725"/>
<circle cx="301.58" cy="210.43" r="4.17" fill="#fde725"/>
<circle cx="245.26" cy="208.66" r="4.17" fill="#fde725"/>
<circle cx="299.91" cy="208.67" r="4.17" fill="#fde725"/>
<circle cx="294.97" cy="208.8" r="4.17" fill="#fde725"/>
<circle cx="289.61" cy="208.75" r="4.17" fill="#fde725"/>
<circle cx="294.07" cy="209.54" r="4.17" fill="#fde725"/>
<circle cx="248.18" cy="210.12" r="4.17" fill="#fde725"/>
<circle cx="284.85" cy="207.01" r="4.17" fill="#fde725"/>
<circle cx="309.33" cy="209.52" r="4.17" fill="#fde725"/>
<circle cx="258.2" cy="212.01" r="4.17" fill="#fde725"/>
<circle cx="251.21" cy="210.6" r="4.17" fill="#fde725"/>
<circle cx="258.51" cy="208.02" r="4.17" fill="#fde725"/>
<circle cx="310.33" cy="212.02" r="4.17" fill="#fde725"/>
<circle cx="310.93" cy="209.41" r="4.17" fill="#fde725"/>
<circle cx="320.88" cy="210.86" r="4.17" fill="#fde725"/>
<circle cx="257.1" cy="208.49" r="4.17" fill="#fde725"/>
<circle cx="231.64" cy="208.79" r="4.17" fill="#fde725"/>
<circle cx="219.56" cy="210.42" r="4.17" fill="#fde725"/>
<circle cx="290.46" cy="207.62" r="4.17" fill="#fde725"/>
<circle cx="288.31" cy="209.72" r="4.17" fill="#fde725"/>
<circle cx="309.34" cy="209" r="4.17" fill="#fde725"/>
<circle cx="219.18" cy="208.6" r="4.17" fill="#fde725"/>
<circle cx="258.74" cy="207.91" r="4.17" fill="#fde725"/>
<circle cx="310.34" cy="212.2" r="4.17" fill="#fde725"/>
<circle cx="310.54" cy="213.86" r="4.17" fill="#fde725"/>
<circle cx="291.51" cy="209.7" r="4.17" fill="#fde725"/>
<circle cx="337.26" cy="209.18" r="4.17" fill="#fde725"/>
<circle cx="303.02" cy="208.8" r="4.17" fill="#fde725"/>
<circle cx="258.59" cy="209.52" r="4.17" fill="#fde725"/>
<circle cx="236.93" cy="210.76" r="4.17" fill="#fde725"/>
<circle cx="256.67" cy="208.75" r="4.17" fill="#fde725"/>
<circle cx="299.38" cy="211.14" r="4.17" fill="#fde725"/>
<circle cx="285.82" cy="208.73" r="4.17" fill="#fde725"/>
<circle cx="225.97" cy="207.06" r="4.17" fill="#fde725"/>
<circle cx="264.49" cy="207.61" r="4.17" fill="#fde725"/>
<circle cx="259.97" cy="210.51" r="4.17" fill="#fde725"/>
<circle cx="255.11" cy="206.77" r="4.17" fill="#fde725"/>
<circle cx="252.16" cy="211.03" r="4.17" fill="#fde725"/>
<circle cx="291.67" cy="213.57" r="4.17" fill="#fde725"/>
<circle cx="289.16" cy="209.95" r="4.17" fill="#fde725"/>
<circle cx="253.39" cy="207.75" r="4.17" fill="#fde725"/>
<circle cx="292.94" cy="208.49" r="4.17" fill="#fde725"/>
<circle cx="298.52" cy="208.9" r="4.17" fill="#fde725"/>
<circle cx="262.99" cy="211.49" r="4.17" fill="#fde725"/>
<circle cx="263.74" cy="209.4" r="4.17" fill="#fde725"/>
<circle cx="319.99" cy="218.07" r="4.17" fill="#fde725"/>
<circle cx="293.58" cy="210.5" r="4.17" fill="#fde725"/>
<circle cx="233.03" cy="207.94" r="4.17" fill="#fde725"/>
<circle cx="303.03" cy="208.75" r="4.17" fill="#fde725"/>
<circle cx="256.49" cy="217.25" r="4.17" fill="#fde725"/>
<circle cx="287.39" cy="209.25" r="4.17" fill="#fde725"/>
<circle cx="335.3" cy="209.29" r="4.17" fill="#fde725"/>
<circle cx="291.18" cy="211.5" r="4.17" fill="#fde725"/>
<circle cx="266.16" cy="209.64" r="4.17" fill="#fde725"/>
<circle cx="311.82" cy="207.91" r="4.17" fill="#fde725"/>
<circle cx="245.09" cy="207.71" r="4.17" fill="#fde725"/>
<circle cx="295.27" cy="207.91" r="4.17" fill="#fde725"/>
<circle cx="273.59" cy="209.05" r="4.17" fill="#fde725"/>
<circle cx="317.09" cy="211.18" r="4.17" fill="#fde725"/>
<circle cx="292.56" cy="212.76" r="4.17" fill="#fde725"/>
<circle cx="294.42" cy="210.65" r="4.17" fill="#fde725"/>
<circle cx="352" cy="209.23" r="4.17" fill="#fde725"/>
<circle cx="331.67" cy="209.23" r="4.17" fill="#fde725"/>
<circle cx="261.68" cy="209.07" r="4.17" fill="#fde725"/>
<circle cx="215.5" cy="207.5" r="4.17" fill="#440154"/>
<circle cx="225" cy="210" r="4.17" fill="#440154"/>
<circle cx="212.8" cy="212.8" r="4.17" fill="#fde725"/>
<circle cx="215.8" cy="213.3" r="4.17" fill="#fde725"/>
<circle cx="220.8" cy="206.9" r="4.17" fill="#fde725"/>
<circle cx="222.9" cy="214.9" r="4.17" fill="#fde725"/>
<circle cx="229.3" cy="209.1" r="4.17" fill="#fde725"/>
<circle cx="236.3" cy="214.9" r="4.17" fill="#fde725"/>
<circle cx="240.5" cy="209.1" r="4.17" fill="#fde725"/>
<circle cx="238.9" cy="217.6" r="4.17" fill="#fde725"/>
<circle cx="247.5" cy="205.3" r="4.17" fill="#fde725"/>
<circle cx="246.9" cy="213.9" r="4.17" fill="#fde725"/>
<circle cx="258.1" cy="205.9" r="4.17" fill="#fde725"/>
<circle cx="258.7" cy="219.2" r="4.17" fill="#fde725"/>
<circle cx="290" cy="220.3" r="4.17" fill="#fde725"/>
<circle cx="315.8" cy="220.3" r="4.17" fill="#fde725"/>
<circle cx="257.5" cy="218.7" r="4.17" fill="#fde725"/>
<circle cx="351" cy="212.2" r="4.17" fill="#fde725"/>
<circle cx="343" cy="209" r="4.17" fill="#fde725"/>
<circle cx="336" cy="207" r="4.17" fill="#fde725"/>
<circle cx="200.5" cy="218.75" r="4.17" fill="#440154"/>
<circle cx="201.5" cy="226.5" r="4.17" fill="#440154"/>
<circle cx="209.3" cy="227.4" r="4.17" fill="#440154"/>
<circle cx="218" cy="223" r="4.17" fill="#440154"/>
<circle cx="199.8" cy="236.2" r="4.17" fill="#440154"/>
<circle cx="201.3" cy="254.5" r="4.17" fill="#440154"/>
<circle cx="201.8" cy="276.5" r="4.17" fill="#440154"/>
<circle cx="200.5" cy="286.2" r="4.17" fill="#440154"/>
<circle cx="198.3" cy="303.1" r="4.17" fill="#440154"/>
<circle cx="198.4" cy="372" r="4.17" fill="#440154"/>
<circle cx="197.7" cy="439.6" r="4.17" fill="#440154"/>
<circle cx="330.8" cy="214.3" r="4.17" fill="#440154"/>
<circle cx="348.3" cy="207.2" r="4.17" fill="#440154"/>
<circle cx="355.5" cy="211" r="4.17" fill="#440154"/>
<circle cx="364.8" cy="207.5" r="4.17" fill="#440154"/>
<circle cx="364.6" cy="209.3" r="4.17" fill="#440154"/>
<circle cx="363.9" cy="210.8" r="4.17" fill="#440154"/>
<circle cx="364.3" cy="218.4" r="4.17" fill="#440154"/>
</g>
<g stroke="#000" stroke-width="1.11" fill="none">
<path d="M66.5 105.55V542.5" stroke-linecap="square"/>
<path d="M66.5 542.5H496.3" stroke-linecap="square"/>
<path d="M75.5 542.5V547.5M135.5 542.5V547.5M195.5 542.5V547.5M255.5 542.5V547.5M315.5 542.5V547.5M375.5 542.5V547.5M435.5 542.5V547.5M495.5 542.5V547.5M66.5 501.5H61.1M66.5 451.5H61.1M66.5 402.5H61.1M66.5 352.5H61.1M66.5 303.5H61.1M66.5 253.5H61.1M66.5 204.5H61.1M66.5 154.5H61.1M75.5 90.5V95.7M135.5 90.5V95.7M195.5 90.5V95.7M255.5 90.5V95.7M315.5 90.5V95.7M375.5 90.5V95.7M435.5 90.5V95.7M495.5 90.5V95.7M511.5 501.5H506.1M511.5 451.5H506.1M511.5 402.5H506.1M511.5 352.5H506.1M511.5 303.5H506.1M511.5 253.5H506.1M511.5 204.5H506.1M511.5 154.5H506.1"/>
</g>
<g text-anchor="middle" letter-spacing="-0.4">
<text x="75.1" y="562">−0.4</text>
<text x="135.1" y="562">−0.2</text>
<text x="195.1" y="562">0.0</text>
<text x="255.1" y="562">0.2</text>
<text x="315.1" y="562">0.4</text>
<text x="375.1" y="562">0.6</text>
<text x="435.1" y="562">0.8</text>
<text x="495.1" y="562">1.0</text>
</g>
<text text-anchor="middle" letter-spacing="-0.23" x="280.86" y="581.5">longest</text>
<g text-anchor="end" letter-spacing="-0.4">
<text x="56.2" y="506.82">40</text>
<text x="56.2" y="457.25">50</text>
<text x="56.2" y="407.68">60</text>
<text x="56.2" y="358.11">70</text>
<text x="56.2" y="308.54">80</text>
<text x="56.2" y="258.97">90</text>
<text x="56.2" y="209.4">100</text>
<text x="56.2" y="159.83">110</text>
</g>
<g text-anchor="end" letter-spacing="-0.3">
<text x="495.2" y="580.61">1e6</text>
<text x="495.2" y="104.97">1e6</text>
</g>
<text letter-spacing="-0.3" x="66.92" y="10.83">1e−6</text>
<text text-anchor="middle" letter-spacing="-0.04" transform="translate(21.36 324.41) rotate(-90)">Completeness_Specific</text>
<clipPath id="cx"><rect x="66.42" y="15" width="429.68" height="75.8"/></clipPath>
<g clip-path="url(#cx)" stroke-linejoin="round">
<path d="M190 90.75 191 90.74 192 90.72 193 90.7 194 90.68 195 90.65 196 90.61 197 90.57 198 90.52 199 90.46 200 90.38 201 90.3 202 90.19 203 90.07 204 89.93 205 89.77 206 89.59 207 89.38 208 89.13 209 88.86 210 88.54 211 88.19 212 87.8 213 87.37 214 86.88 215 86.35 216 85.77 217 85.14 218 84.45 219 83.7 220 82.9 221 82.05 222 81.14 223 80.17 224 79.14 225 78.06 226 76.92 227 75.73 228 74.47 229 73.16 230 71.79 231 70.36 232 68.86 233 67.3 234 65.67 235 63.96 236 62.18 237 60.33 238 58.4 239 56.4 240 54.35 241 52.24 242 50.09 243 47.93 244 45.77 245 43.64 246 41.58 247 39.63 248 37.81 249 36.16 250 34.74 251 33.57 252 32.68 253 32.12 254 31.89 255 32.02 256 32.51 257 33.35 258 34.54 259 36.05 260 37.85 261 39.9 262 42.14 263 44.53 264 47.01 265 49.51 266 51.98 267 54.34 268 56.56 269 58.56 270 60.29 271 61.71 272 62.77 273 63.45 274 63.7 275 63.52 276 62.88 277 61.78 278 60.23 279 58.26 280 55.88 281 53.14 282 50.09 283 46.81 284 43.37 285 39.85 286 36.35 287 32.95 288 29.74 289 26.82 290 24.25 291 22.1 292 20.41 293 19.21 294 18.5 295 18.27 296 18.51 297 19.17 298 20.2 299 21.55 300 23.16 301 24.97 302 26.93 303 28.99 304 31.12 305 33.27 306 35.43 307 37.58 308 39.72 309 41.83 310 43.92 311 46 312 48.05 313 50.09 314 52.12 315 54.14 316 56.14 317 58.12 318 60.09 319 62.02 320 63.92 321 65.78 322 67.58 323 69.33 324 71 325 72.6 326 74.12 327 75.56 328 76.9 329 78.14 330 79.29 331 80.34 332 81.29 333 82.15 334 82.92 335 83.6 336 84.21 337 84.75 338 85.23 339 85.65 340 86.04 341 86.39 342 86.71 343 87.02 344 87.31 345 87.59 346 87.87 347 88.14 348 88.4 349 88.66 350 88.9 351 89.14 352 89.36 353 89.57 354 89.76 355 89.93 356 90.08 357 90.22 358 90.33 359 90.43 360 90.51 361 90.57 362 90.63 363 90.67 364 90.7 365 90.73 366 90.75 367 90.76 368 90.77 369 90.78 370 90.79 371 90.79 372 90.79 L372 90.8 L190 90.8 Z" fill="#fde725" fill-opacity="0.25" stroke="none"/>
<path d="M190 90.75 191 90.74 192 90.72 193 90.7 194 90.68 195 90.65 196 90.61 197 90.57 198 90.52 199 90.46 200 90.38 201 90.3 202 90.19 203 90.07 204 89.93 205 89.77 206 89.59 207 89.38 208 89.13 209 88.86 210 88.54 211 88.19 212 87.8 213 87.37 214 86.88 215 86.35 216 85.77 217 85.14 218 84.45 219 83.7 220 82.9 221 82.05 222 81.14 223 80.17 224 79.14 225 78.06 226 76.92 227 75.73 228 74.47 229 73.16 230 71.79 231 70.36 232 68.86 233 67.3 234 65.67 235 63.96 236 62.18 237 60.33 238 58.4 239 56.4 240 54.35 241 52.24 242 50.09 243 47.93 244 45.77 245 43.64 246 41.58 247 39.63 248 37.81 249 36.16 250 34.74 251 33.57 252 32.68 253 32.12 254 31.89 255 32.02 256 32.51 257 33.35 258 34.54 259 36.05 260 37.85 261 39.9 262 42.14 263 44.53 264 47.01 265 49.51 266 51.98 267 54.34 268 56.56 269 58.56 270 60.29 271 61.71 272 62.77 273 63.45 274 63.7 275 63.52 276 62.88 277 61.78 278 60.23 279 58.26 280 55.88 281 53.14 282 50.09 283 46.81 284 43.37 285 39.85 286 36.35 287 32.95 288 29.74 289 26.82 290 24.25 291 22.1 292 20.41 293 19.21 294 18.5 295 18.27 296 18.51 297 19.17 298 20.2 299 21.55 300 23.16 301 24.97 302 26.93 303 28.99 304 31.12 305 33.27 306 35.43 307 37.58 308 39.72 309 41.83 310 43.92 311 46 312 48.05 313 50.09 314 52.12 315 54.14 316 56.14 317 58.12 318 60.09 319 62.02 320 63.92 321 65.78 322 67.58 323 69.33 324 71 325 72.6 326 74.12 327 75.56 328 76.9 329 78.14 330 79.29 331 80.34 332 81.29 333 82.15 334 82.92 335 83.6 336 84.21 337 84.75 338 85.23 339 85.65 340 86.04 341 86.39 342 86.71 343 87.02 344 87.31 345 87.59 346 87.87 347 88.14 348 88.4 349 88.66 350 88.9 351 89.14 352 89.36 353 89.57 354 89.76 355 89.93 356 90.08 357 90.22 358 90.33 359 90.43 360 90.51 361 90.57 362 90.63 363 90.67 364 90.7 365 90.73 366 90.75 367 90.76 368 90.77 369 90.78 370 90.79 371 90.79 372 90.79" fill="none" stroke="#fde725" stroke-width="1.55"/>
<path d="M86 90.75 89 90.73 92.01 90.72 95.01 90.7 98.02 90.68 101.02 90.66 104.02 90.63 107.03 90.6 110.03 90.57 113.03 90.53 116.04 90.48 119.04 90.43 122.05 90.37 125.05 90.31 128.05 90.24 131.06 90.16 134.06 90.08 137.07 89.99 140.07 89.89 143.07 89.79 146.08 89.68 149.08 89.56 152.08 89.44 155.09 89.32 158.09 89.19 161.1 89.06 164.1 88.93 167.1 88.8 170.11 88.68 173.11 88.55 176.12 88.43 179.12 88.32 182.12 88.21 185.13 88.12 188.13 88.03 191.13 87.96 194.14 87.9 197.14 87.85 200.15 87.82 203.15 87.8 206.15 87.8 209.16 87.81 212.16 87.84 215.17 87.88 218.17 87.93 221.17 88 224.18 88.08 227.18 88.17 230.18 88.26 233.19 88.37 236.19 88.48 239.2 88.59 242.2 88.7 245.2 88.82 248.21 88.93 251.21 89.04 254.22 89.15 257.22 89.25 260.22 89.34 263.23 89.43 266.23 89.5 269.23 89.57 272.24 89.62 275.24 89.66 278.25 89.69 281.25 89.71 284.25 89.72 287.26 89.72 290.26 89.7 293.27 89.68 296.27 89.65 299.27 89.6 302.28 89.55 305.28 89.5 308.28 89.43 311.29 89.37 314.29 89.3 317.3 89.22 320.3 89.15 323.3 89.08 326.31 89.01 329.31 88.95 332.32 88.89 335.32 88.83 338.32 88.79 341.33 88.75 344.33 88.72 347.33 88.7 350.34 88.69 353.34 88.7 356.35 88.71 359.35 88.73 362.35 88.76 365.36 88.8 368.36 88.85 371.37 88.91 374.37 88.98 377.37 89.05 380.38 89.13 383.38 89.21 386.38 89.3 389.39 89.39 392.39 89.48 395.4 89.57 398.4 89.66 401.4 89.75 404.41 89.84 407.41 89.92 410.42 90 413.42 90.08 416.42 90.15 419.43 90.22 422.43 90.29 425.43 90.34 428.44 90.4 431.44 90.45 434.45 90.49 437.45 90.53 440.45 90.57 443.46 90.6 446.46 90.63 449.47 90.66 452.47 90.68 455.47 90.7 458.48 90.72 461.48 90.73 464.48 90.74 467.49 90.75 470.49 90.76 473.5 90.77 476.5 90.77 L476.5 90.8 L86 90.8 Z" fill="#440154" fill-opacity="0.25" stroke="none"/>
<path d="M86 90.75 89 90.73 92.01 90.72 95.01 90.7 98.02 90.68 101.02 90.66 104.02 90.63 107.03 90.6 110.03 90.57 113.03 90.53 116.04 90.48 119.04 90.43 122.05 90.37 125.05 90.31 128.05 90.24 131.06 90.16 134.06 90.08 137.07 89.99 140.07 89.89 143.07 89.79 146.08 89.68 149.08 89.56 152.08 89.44 155.09 89.32 158.09 89.19 161.1 89.06 164.1 88.93 167.1 88.8 170.11 88.68 173.11 88.55 176.12 88.43 179.12 88.32 182.12 88.21 185.13 88.12 188.13 88.03 191.13 87.96 194.14 87.9 197.14 87.85 200.15 87.82 203.15 87.8 206.15 87.8 209.16 87.81 212.16 87.84 215.17 87.88 218.17 87.93 221.17 88 224.18 88.08 227.18 88.17 230.18 88.26 233.19 88.37 236.19 88.48 239.2 88.59 242.2 88.7 245.2 88.82 248.21 88.93 251.21 89.04 254.22 89.15 257.22 89.25 260.22 89.34 263.23 89.43 266.23 89.5 269.23 89.57 272.24 89.62 275.24 89.66 278.25 89.69 281.25 89.71 284.25 89.72 287.26 89.72 290.26 89.7 293.27 89.68 296.27 89.65 299.27 89.6 302.28 89.55 305.28 89.5 308.28 89.43 311.29 89.37 314.29 89.3 317.3 89.22 320.3 89.15 323.3 89.08 326.31 89.01 329.31 88.95 332.32 88.89 335.32 88.83 338.32 88.79 341.33 88.75 344.33 88.72 347.33 88.7 350.34 88.69 353.34 88.7 356.35 88.71 359.35 88.73 362.35 88.76 365.36 88.8 368.36 88.85 371.37 88.91 374.37 88.98 377.37 89.05 380.38 89.13 383.38 89.21 386.38 89.3 389.39 89.39 392.39 89.48 395.4 89.57 398.4 89.66 401.4 89.75 404.41 89.84 407.41 89.92 410.42 90 413.42 90.08 416.42 90.15 419.43 90.22 422.43 90.29 425.43 90.34 428.44 90.4 431.44 90.45 434.45 90.49 437.45 90.53 440.45 90.57 443.46 90.6 446.46 90.63 449.47 90.66 452.47 90.68 455.47 90.7 458.48 90.72 461.48 90.73 464.48 90.74 467.49 90.75 470.49 90.76 473.5 90.77 476.5 90.77" fill="none" stroke="#440154" stroke-width="1.39"/>
</g>
<path d="M66.5 90.5H496.3" stroke="#000" stroke-width="1.11" stroke-linecap="square"/>
<clipPath id="cy"><rect x="511" y="105.3" width="74" height="436.43"/></clipPath>
<g clip-path="url(#cy)" stroke-linejoin="round">
<path d="M512.6 115.8V532" fill="none" stroke="#440154" stroke-opacity="0.22" stroke-width="1"/>
<path d="M510.9 202.6 512.5 203.8 535 205.5 565 207.5 580 208.5 582.2 208.85 580 209.3 565 210.5 550 212.05 535 213.5 527.5 215.5 520 217 516.2 217.75 515.2 219.25 516.2 220.5 513.2 221.8 512.2 222.3 510.9 223.5 Z" fill="#fde725" fill-opacity="0.25" stroke="none"/>
<path d="M510.9 202.6 512.5 203.8 535 205.5 565 207.5 580 208.5 582.2 208.85 580 209.3 565 210.5 550 212.05 535 213.5 527.5 215.5 520 217 516.2 217.75 515.2 219.25 516.2 220.5 513.2 221.8 512.2 222.3 510.9 223.5" fill="none" stroke="#fde725" stroke-width="1.55"/>
</g>
<path d="M511.5 105.55V542.2" stroke="#000" stroke-width="1.11" stroke-linecap="square"/>
<rect x="418.2" y="112.5" width="71.2" height="67" rx="2.8" ry="2.8" fill="#fff" fill-opacity="0.8" stroke="#ccc" stroke-opacity="0.8" stroke-width="1.39"/>
<text letter-spacing="-0.17" x="424.27" y="128.75">anomaly</text>
<path d="M426 145H456.1" stroke="#440154" stroke-width="2.1"/>
<path d="M426 166H456.1" stroke="#fde725" stroke-width="2.1"/>
<text x="466.56" y="149.63">-1</text>
<text x="466.56" y="170.62">1</text>
</svg>
</body></html>
